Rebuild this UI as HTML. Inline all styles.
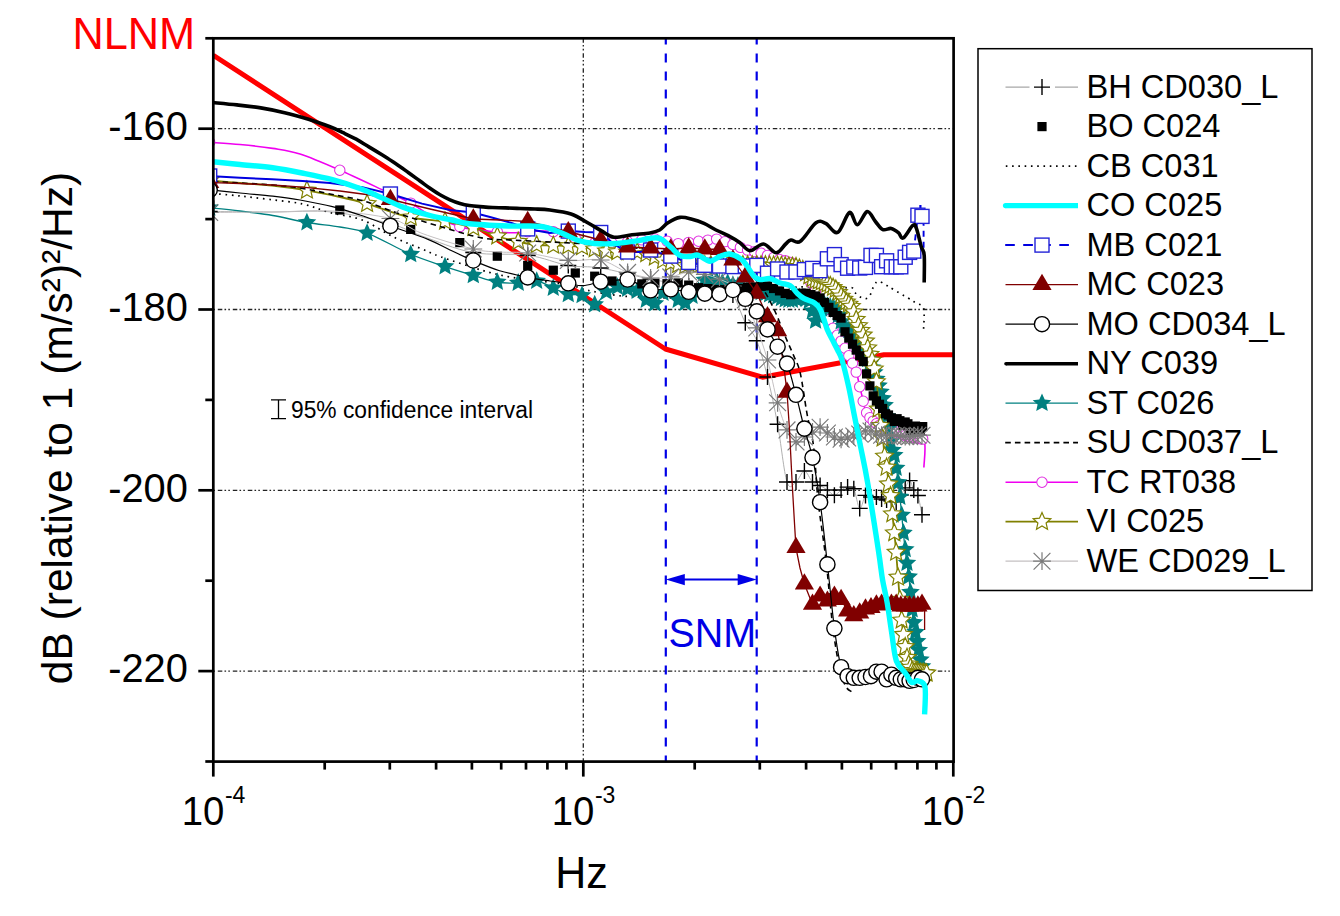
<!DOCTYPE html><html><head><meta charset="utf-8"><style>html,body{margin:0;padding:0;background:#fff;overflow:hidden}</style></head><body><svg width="1340" height="916" viewBox="0 0 1340 916" style="display:block">
<rect width="1340" height="916" fill="#fff"/>
<line x1="213.3" y1="128.7" x2="953.6" y2="128.7" stroke="#222" stroke-width="1.3" stroke-dasharray="4.5 2.2 1.6 2.2 1.6 2.9" fill="none" stroke-dashoffset="10.5"/>
<line x1="213.3" y1="309.5" x2="953.6" y2="309.5" stroke="#222" stroke-width="1.3" stroke-dasharray="4.5 2.2 1.6 2.2 1.6 2.9" fill="none" stroke-dashoffset="10.5"/>
<line x1="213.3" y1="490.3" x2="953.6" y2="490.3" stroke="#222" stroke-width="1.3" stroke-dasharray="4.5 2.2 1.6 2.2 1.6 2.9" fill="none" stroke-dashoffset="10.5"/>
<line x1="213.3" y1="671.1" x2="953.6" y2="671.1" stroke="#222" stroke-width="1.3" stroke-dasharray="4.5 2.2 1.6 2.2 1.6 2.9" fill="none" stroke-dashoffset="10.5"/>
<line x1="583.3" y1="38.3" x2="583.3" y2="761.6" stroke="#222" stroke-width="1.3" stroke-dasharray="4.5 2.2 1.6 2.2 1.6 2.9" fill="none"/>
<line x1="665.8" y1="38.3" x2="665.8" y2="761.6" stroke="#0000e6" stroke-width="2.2" stroke-dasharray="9 9" stroke-dashoffset="2.7"/>
<line x1="756.7" y1="38.3" x2="756.7" y2="761.6" stroke="#0000e6" stroke-width="2.2" stroke-dasharray="9 9" stroke-dashoffset="2.7"/>
<defs><clipPath id="pc"><rect x="213.3" y="38.3" width="740.3" height="723.3000000000001"/></clipPath></defs>
<g clip-path="url(#pc)">
<path d="M213.3,55.3 L665.4,349.0 L762.4,377.2 L883.9,354.7 L953.3,354.7" stroke="#f00" stroke-width="5" fill="none" stroke-linejoin="round"/>
<path d="M209.0,211.5 C219.5,211.6 251.4,211.9 272.0,212.0 C292.6,212.1 312.6,210.0 332.4,212.0 C352.2,214.0 375.9,220.0 390.8,224.0 C405.7,228.0 408.4,231.2 422.0,236.0 C435.6,240.8 455.1,249.3 472.7,252.5 C490.3,255.7 512.0,253.0 527.9,255.2 C543.8,257.4 556.1,263.4 568.2,265.5 C580.3,267.6 587.0,265.8 600.6,268.0 C614.2,270.2 633.4,275.7 650.0,279.0 C666.6,282.3 688.4,285.8 700.0,288.0 C711.6,290.2 714.0,290.8 719.5,292.0 C725.0,293.2 728.6,289.9 732.9,295.0 C737.2,300.1 741.3,315.2 745.3,322.8 C749.3,330.4 753.1,331.8 756.8,340.8 C760.5,349.8 764.0,363.1 767.5,377.0 C771.0,390.9 774.4,407.0 777.6,424.5 C780.9,442.0 783.9,472.4 787.0,482.0 C790.1,491.6 793.1,483.8 796.0,482.0 C798.9,480.2 801.6,471.0 804.4,471.0 C807.1,471.0 809.9,479.6 812.5,482.0 C815.1,484.4 817.6,484.2 820.1,485.5 C822.6,486.8 825.0,488.4 827.4,490.0 C829.8,491.6 832.1,495.3 834.4,495.3 C836.7,495.3 838.9,491.4 841.1,490.0 C843.3,488.6 845.5,487.3 847.6,487.1 C849.7,486.9 851.8,485.2 853.8,488.8 C855.8,492.4 857.8,507.3 859.7,508.4 C861.7,509.5 863.6,497.2 865.5,495.3 C867.4,493.4 869.2,496.7 871.0,497.0 C872.8,497.3 874.6,496.7 876.4,497.0 C878.2,497.3 879.9,498.5 881.6,499.0 C883.3,499.5 885.0,499.7 886.6,500.0 C888.2,500.3 889.8,500.7 891.4,501.0 C893.0,501.3 894.6,502.9 896.2,501.9 C897.8,500.9 899.3,497.3 900.8,495.0 C902.3,492.7 903.7,490.4 905.2,488.0 C906.7,485.6 908.2,480.3 909.6,480.6 C911.0,480.9 912.4,487.6 913.8,490.0 C915.2,492.4 916.5,491.1 917.9,495.3 C919.3,499.5 921.3,511.7 922.0,515.0" stroke="#b0b0b0" stroke-width="1.0" fill="none" stroke-linejoin="round"/>
<path d="M201.7,211.5h16M209.7,203.5v16" stroke="#000" stroke-width="1.4" fill="none"/>
<path d="M382.4,223.9h16M390.4,215.9v16" stroke="#000" stroke-width="1.4" fill="none"/>
<path d="M465.3,252.5h16M473.3,244.5v16" stroke="#000" stroke-width="1.4" fill="none"/>
<path d="M519.7,255.2h16M527.7,247.2v16" stroke="#000" stroke-width="1.4" fill="none"/>
<path d="M560.3,265.5h16M568.3,257.5v16" stroke="#000" stroke-width="1.4" fill="none"/>
<path d="M592.7,268.0h16M600.7,260.0v16" stroke="#000" stroke-width="1.4" fill="none"/>
<path d="M619.6,274.0h16M627.6,266.0v16" stroke="#000" stroke-width="1.4" fill="none"/>
<path d="M642.6,279.1h16M650.6,271.1v16" stroke="#000" stroke-width="1.4" fill="none"/>
<path d="M662.8,282.7h16M670.8,274.7v16" stroke="#000" stroke-width="1.4" fill="none"/>
<path d="M680.7,286.0h16M688.7,278.0v16" stroke="#000" stroke-width="1.4" fill="none"/>
<path d="M696.8,289.0h16M704.8,281.0v16" stroke="#000" stroke-width="1.4" fill="none"/>
<path d="M711.5,292.0h16M719.5,284.0v16" stroke="#000" stroke-width="1.4" fill="none"/>
<path d="M724.9,295.0h16M732.9,287.0v16" stroke="#000" stroke-width="1.4" fill="none"/>
<path d="M737.3,322.7h16M745.3,314.7v16" stroke="#000" stroke-width="1.4" fill="none"/>
<path d="M748.8,340.8h16M756.8,332.8v16" stroke="#000" stroke-width="1.4" fill="none"/>
<path d="M759.5,377.0h16M767.5,369.0v16" stroke="#000" stroke-width="1.4" fill="none"/>
<path d="M769.6,424.3h16M777.6,416.3v16" stroke="#000" stroke-width="1.4" fill="none"/>
<path d="M779.0,482.0h16M787.0,474.0v16" stroke="#000" stroke-width="1.4" fill="none"/>
<path d="M788.0,482.0h16M796.0,474.0v16" stroke="#000" stroke-width="1.4" fill="none"/>
<path d="M796.4,471.0h16M804.4,463.0v16" stroke="#000" stroke-width="1.4" fill="none"/>
<path d="M804.5,482.0h16M812.5,474.0v16" stroke="#000" stroke-width="1.4" fill="none"/>
<path d="M812.1,485.5h16M820.1,477.5v16" stroke="#000" stroke-width="1.4" fill="none"/>
<path d="M819.4,490.0h16M827.4,482.0v16" stroke="#000" stroke-width="1.4" fill="none"/>
<path d="M826.4,495.3h16M834.4,487.3v16" stroke="#000" stroke-width="1.4" fill="none"/>
<path d="M833.1,490.0h16M841.1,482.0v16" stroke="#000" stroke-width="1.4" fill="none"/>
<path d="M839.6,487.1h16M847.6,479.1v16" stroke="#000" stroke-width="1.4" fill="none"/>
<path d="M845.8,488.8h16M853.8,480.8v16" stroke="#000" stroke-width="1.4" fill="none"/>
<path d="M851.7,508.4h16M859.7,500.4v16" stroke="#000" stroke-width="1.4" fill="none"/>
<path d="M857.5,495.4h16M865.5,487.4v16" stroke="#000" stroke-width="1.4" fill="none"/>
<path d="M863.0,497.0h16M871.0,489.0v16" stroke="#000" stroke-width="1.4" fill="none"/>
<path d="M868.4,497.0h16M876.4,489.0v16" stroke="#000" stroke-width="1.4" fill="none"/>
<path d="M873.6,499.0h16M881.6,491.0v16" stroke="#000" stroke-width="1.4" fill="none"/>
<path d="M878.6,500.0h16M886.6,492.0v16" stroke="#000" stroke-width="1.4" fill="none"/>
<path d="M883.4,501.0h16M891.4,493.0v16" stroke="#000" stroke-width="1.4" fill="none"/>
<path d="M888.2,501.9h16M896.2,493.9v16" stroke="#000" stroke-width="1.4" fill="none"/>
<path d="M892.8,495.0h16M900.8,487.0v16" stroke="#000" stroke-width="1.4" fill="none"/>
<path d="M897.2,487.9h16M905.2,479.9v16" stroke="#000" stroke-width="1.4" fill="none"/>
<path d="M901.6,480.6h16M909.6,472.6v16" stroke="#000" stroke-width="1.4" fill="none"/>
<path d="M905.8,490.0h16M913.8,482.0v16" stroke="#000" stroke-width="1.4" fill="none"/>
<path d="M909.9,495.5h16M917.9,487.5v16" stroke="#000" stroke-width="1.4" fill="none"/>
<path d="M914.0,514.8h16M922.0,506.8v16" stroke="#000" stroke-width="1.4" fill="none"/>
<path d="M213.0,193.5 C217.5,193.9 230.5,195.0 240.0,196.0 C249.5,197.0 259.6,198.2 270.0,199.5 C280.4,200.8 292.6,201.8 302.6,204.0 C312.6,206.2 320.1,209.9 330.0,212.6 C339.9,215.3 351.8,216.0 362.3,220.0 C372.8,224.0 383.1,232.0 393.0,236.8 C402.9,241.6 414.0,245.7 422.0,249.0 C430.0,252.3 431.1,253.4 441.0,256.9 C450.9,260.4 470.2,266.8 481.7,270.2 C493.2,273.6 500.1,275.2 510.0,277.0 C520.0,278.8 531.4,279.9 541.4,281.2 C551.4,282.5 562.2,283.5 570.0,285.0 C577.8,286.5 580.3,288.7 588.0,290.4 C595.7,292.1 607.7,294.3 616.4,295.4 C625.1,296.5 629.4,296.6 640.0,297.0 C650.6,297.4 666.7,298.2 680.0,298.0 C693.3,297.8 706.7,297.2 720.0,296.0 C733.3,294.8 746.7,292.5 760.0,291.0 C773.3,289.5 789.0,287.6 800.0,287.0 C811.0,286.4 819.2,287.3 826.0,287.5 C832.8,287.7 836.7,288.3 841.0,288.3 C845.3,288.3 849.2,286.8 851.6,287.5 C854.0,288.2 853.7,291.1 855.1,292.7 C856.5,294.3 858.5,296.1 860.3,297.1 C862.0,298.1 864.0,299.1 865.6,298.8 C867.2,298.5 868.5,297.6 870.0,295.3 C871.5,293.0 872.8,287.1 874.3,284.8 C875.8,282.5 876.8,281.4 878.7,281.4 C880.7,281.4 883.5,283.6 886.0,285.0 C888.5,286.4 889.9,287.4 893.6,289.6 C897.3,291.8 904.3,295.8 908.0,298.0 C911.7,300.2 913.4,301.3 916.0,303.0 C918.6,304.7 922.3,303.9 923.6,308.3 C924.9,312.8 923.6,326.1 923.6,329.7" stroke="#000" stroke-width="1.7" fill="none" stroke-linejoin="round" stroke-dasharray="1.6 4.7"/>
<path d="M209.0,142.2 C214.2,142.6 229.4,143.5 240.0,144.5 C250.6,145.5 262.7,146.8 272.7,148.4 C282.7,150.0 289.1,150.5 300.0,154.0 C310.9,157.5 324.0,163.2 338.4,169.5 C352.8,175.8 374.1,186.0 386.1,191.6 C398.1,197.2 403.3,199.1 410.6,203.0 C417.9,206.9 421.9,211.1 430.0,215.0 C438.1,218.9 450.7,223.9 459.3,226.5 C467.9,229.1 473.0,229.3 481.7,230.4 C490.4,231.5 501.6,232.7 511.5,232.8 C521.5,232.9 533.0,231.1 541.4,231.0 C549.8,230.9 555.7,230.6 561.8,232.0 C567.9,233.4 572.7,237.7 578.2,239.5 C583.7,241.3 588.2,242.4 594.6,243.0 C601.0,243.6 609.1,243.4 616.4,243.0 C623.7,242.6 632.8,241.2 638.3,240.5 C643.8,239.8 645.6,238.7 649.2,238.5 C652.8,238.3 655.1,238.6 660.0,239.5 C664.9,240.4 671.8,243.4 678.5,243.7 C685.2,243.9 693.5,241.8 700.0,241.0 C706.5,240.2 713.0,238.7 717.8,239.0 C722.6,239.3 724.1,241.2 729.0,243.0 C733.9,244.8 741.8,248.4 747.0,250.0 C752.2,251.6 754.9,251.3 760.0,252.8 C765.1,254.3 772.6,257.5 777.6,259.0 C782.6,260.5 785.4,259.8 790.0,262.0 C794.6,264.2 800.3,266.5 805.0,272.0 C809.7,277.5 814.2,287.3 818.0,295.0 C821.8,302.7 825.6,312.7 828.0,318.0 C830.4,323.3 831.1,324.2 832.4,326.8 C833.7,329.4 834.7,331.9 835.9,333.8 C837.1,335.7 838.2,336.4 839.4,338.1 C840.6,339.8 840.8,340.4 842.9,344.2 C845.0,348.0 849.4,356.3 851.7,361.2 C854.0,366.1 855.4,369.3 856.7,373.4 C858.0,377.4 858.5,381.7 859.4,385.5 C860.3,389.3 861.2,392.5 862.1,396.3 C863.0,400.1 863.9,405.3 864.8,408.4 C865.7,411.5 865.8,412.7 867.5,415.1 C869.2,417.5 871.4,420.5 875.0,423.0 C878.6,425.5 885.1,428.3 889.0,429.9 C892.9,431.5 895.3,431.4 898.4,432.5 C901.5,433.6 903.5,435.5 907.8,436.6 C912.0,437.7 921.2,434.2 923.9,439.3 C926.6,444.4 923.9,462.8 923.9,467.5" stroke="#f000f0" stroke-width="1.6" fill="none" stroke-linejoin="round"/>
<circle cx="209.7" cy="142.3" r="5.2" fill="#fff" stroke="#e030e0" stroke-width="1.05"/>
<circle cx="339.8" cy="170.2" r="5.2" fill="#fff" stroke="#e030e0" stroke-width="1.05"/>
<circle cx="410.7" cy="203.1" r="5.2" fill="#fff" stroke="#e030e0" stroke-width="1.05"/>
<circle cx="459.8" cy="226.6" r="5.2" fill="#fff" stroke="#e030e0" stroke-width="1.05"/>
<circle cx="497.3" cy="231.7" r="5.2" fill="#fff" stroke="#e030e0" stroke-width="1.05"/>
<circle cx="527.7" cy="231.8" r="5.2" fill="#fff" stroke="#e030e0" stroke-width="1.05"/>
<circle cx="553.3" cy="231.6" r="5.2" fill="#fff" stroke="#e030e0" stroke-width="1.05"/>
<circle cx="575.3" cy="238.2" r="5.2" fill="#fff" stroke="#e030e0" stroke-width="1.05"/>
<circle cx="594.7" cy="243.0" r="5.2" fill="#fff" stroke="#e030e0" stroke-width="1.05"/>
<circle cx="612.0" cy="243.0" r="5.2" fill="#fff" stroke="#e030e0" stroke-width="1.05"/>
<circle cx="627.6" cy="241.7" r="5.2" fill="#fff" stroke="#e030e0" stroke-width="1.05"/>
<circle cx="641.8" cy="239.9" r="5.2" fill="#fff" stroke="#e030e0" stroke-width="1.05"/>
<circle cx="654.9" cy="239.0" r="5.2" fill="#fff" stroke="#e030e0" stroke-width="1.05"/>
<circle cx="667.0" cy="241.1" r="5.2" fill="#fff" stroke="#e030e0" stroke-width="1.05"/>
<circle cx="678.2" cy="243.6" r="5.2" fill="#fff" stroke="#e030e0" stroke-width="1.05"/>
<circle cx="688.7" cy="242.4" r="5.2" fill="#fff" stroke="#e030e0" stroke-width="1.05"/>
<circle cx="698.6" cy="241.2" r="5.2" fill="#fff" stroke="#e030e0" stroke-width="1.05"/>
<circle cx="707.9" cy="240.1" r="5.2" fill="#fff" stroke="#e030e0" stroke-width="1.05"/>
<circle cx="716.6" cy="239.1" r="5.2" fill="#fff" stroke="#e030e0" stroke-width="1.05"/>
<circle cx="725.0" cy="241.6" r="5.2" fill="#fff" stroke="#e030e0" stroke-width="1.05"/>
<circle cx="732.9" cy="244.5" r="5.2" fill="#fff" stroke="#e030e0" stroke-width="1.05"/>
<circle cx="740.4" cy="247.4" r="5.2" fill="#fff" stroke="#e030e0" stroke-width="1.05"/>
<circle cx="747.6" cy="250.1" r="5.2" fill="#fff" stroke="#e030e0" stroke-width="1.05"/>
<circle cx="754.5" cy="251.6" r="5.2" fill="#fff" stroke="#e030e0" stroke-width="1.05"/>
<circle cx="761.1" cy="253.2" r="5.2" fill="#fff" stroke="#e030e0" stroke-width="1.05"/>
<circle cx="767.5" cy="255.4" r="5.2" fill="#fff" stroke="#e030e0" stroke-width="1.05"/>
<circle cx="773.6" cy="257.6" r="5.2" fill="#fff" stroke="#e030e0" stroke-width="1.05"/>
<circle cx="779.5" cy="259.5" r="5.2" fill="#fff" stroke="#e030e0" stroke-width="1.05"/>
<circle cx="785.2" cy="260.8" r="5.2" fill="#fff" stroke="#e030e0" stroke-width="1.05"/>
<circle cx="790.7" cy="262.4" r="5.2" fill="#fff" stroke="#e030e0" stroke-width="1.05"/>
<circle cx="796.0" cy="266.0" r="5.2" fill="#fff" stroke="#e030e0" stroke-width="1.05"/>
<circle cx="801.1" cy="269.4" r="5.2" fill="#fff" stroke="#e030e0" stroke-width="1.05"/>
<circle cx="806.1" cy="273.9" r="5.2" fill="#fff" stroke="#e030e0" stroke-width="1.05"/>
<circle cx="810.9" cy="282.4" r="5.2" fill="#fff" stroke="#e030e0" stroke-width="1.05"/>
<circle cx="815.6" cy="290.7" r="5.2" fill="#fff" stroke="#e030e0" stroke-width="1.05"/>
<circle cx="820.1" cy="299.9" r="5.2" fill="#fff" stroke="#e030e0" stroke-width="1.05"/>
<circle cx="824.6" cy="310.1" r="5.2" fill="#fff" stroke="#e030e0" stroke-width="1.05"/>
<circle cx="828.9" cy="319.7" r="5.2" fill="#fff" stroke="#e030e0" stroke-width="1.05"/>
<circle cx="833.1" cy="328.1" r="5.2" fill="#fff" stroke="#e030e0" stroke-width="1.05"/>
<circle cx="837.2" cy="335.3" r="5.2" fill="#fff" stroke="#e030e0" stroke-width="1.05"/>
<circle cx="841.1" cy="341.1" r="5.2" fill="#fff" stroke="#e030e0" stroke-width="1.05"/>
<circle cx="845.0" cy="348.3" r="5.2" fill="#fff" stroke="#e030e0" stroke-width="1.05"/>
<circle cx="848.8" cy="355.7" r="5.2" fill="#fff" stroke="#e030e0" stroke-width="1.05"/>
<circle cx="852.5" cy="363.2" r="5.2" fill="#fff" stroke="#e030e0" stroke-width="1.05"/>
<circle cx="856.2" cy="372.1" r="5.2" fill="#fff" stroke="#e030e0" stroke-width="1.05"/>
<circle cx="859.7" cy="386.8" r="5.2" fill="#fff" stroke="#e030e0" stroke-width="1.05"/>
<circle cx="863.2" cy="401.2" r="5.2" fill="#fff" stroke="#e030e0" stroke-width="1.05"/>
<circle cx="866.6" cy="412.8" r="5.2" fill="#fff" stroke="#e030e0" stroke-width="1.05"/>
<circle cx="869.9" cy="417.6" r="5.2" fill="#fff" stroke="#e030e0" stroke-width="1.05"/>
<circle cx="873.2" cy="421.1" r="5.2" fill="#fff" stroke="#e030e0" stroke-width="1.05"/>
<circle cx="876.4" cy="423.7" r="5.2" fill="#fff" stroke="#e030e0" stroke-width="1.05"/>
<circle cx="879.5" cy="425.2" r="5.2" fill="#fff" stroke="#e030e0" stroke-width="1.05"/>
<circle cx="882.6" cy="426.7" r="5.2" fill="#fff" stroke="#e030e0" stroke-width="1.05"/>
<circle cx="885.6" cy="428.2" r="5.2" fill="#fff" stroke="#e030e0" stroke-width="1.05"/>
<circle cx="888.5" cy="429.7" r="5.2" fill="#fff" stroke="#e030e0" stroke-width="1.05"/>
<circle cx="891.4" cy="430.6" r="5.2" fill="#fff" stroke="#e030e0" stroke-width="1.05"/>
<circle cx="894.3" cy="431.4" r="5.2" fill="#fff" stroke="#e030e0" stroke-width="1.05"/>
<circle cx="897.1" cy="432.1" r="5.2" fill="#fff" stroke="#e030e0" stroke-width="1.05"/>
<circle cx="899.9" cy="433.1" r="5.2" fill="#fff" stroke="#e030e0" stroke-width="1.05"/>
<circle cx="902.6" cy="434.3" r="5.2" fill="#fff" stroke="#e030e0" stroke-width="1.05"/>
<circle cx="905.2" cy="435.5" r="5.2" fill="#fff" stroke="#e030e0" stroke-width="1.05"/>
<circle cx="907.9" cy="436.6" r="5.2" fill="#fff" stroke="#e030e0" stroke-width="1.05"/>
<circle cx="910.4" cy="437.0" r="5.2" fill="#fff" stroke="#e030e0" stroke-width="1.05"/>
<circle cx="913.0" cy="437.5" r="5.2" fill="#fff" stroke="#e030e0" stroke-width="1.05"/>
<circle cx="915.5" cy="437.9" r="5.2" fill="#fff" stroke="#e030e0" stroke-width="1.05"/>
<circle cx="917.9" cy="438.3" r="5.2" fill="#fff" stroke="#e030e0" stroke-width="1.05"/>
<circle cx="920.4" cy="438.7" r="5.2" fill="#fff" stroke="#e030e0" stroke-width="1.05"/>
<circle cx="922.7" cy="439.1" r="5.2" fill="#fff" stroke="#e030e0" stroke-width="1.05"/>
<path d="M209.0,207.8 C214.2,208.3 229.4,209.7 240.0,211.0 C250.6,212.3 261.5,213.6 272.7,215.5 C283.9,217.4 295.8,220.6 307.0,222.5 C318.2,224.4 330.1,225.3 340.0,227.0 C349.9,228.7 355.0,228.3 366.7,232.8 C378.4,237.3 397.1,248.4 410.0,254.0 C422.9,259.6 433.9,262.8 444.3,266.3 C454.8,269.8 464.0,272.6 472.7,275.2 C481.4,277.8 489.1,280.7 496.6,282.0 C504.1,283.3 510.8,283.2 517.5,283.0 C524.2,282.8 530.9,280.2 536.9,281.0 C542.9,281.8 548.1,285.8 553.3,288.0 C558.5,290.2 563.5,293.1 568.3,294.3 C573.1,295.5 577.6,293.7 582.0,295.4 C586.4,297.1 590.6,305.1 594.7,304.5 C598.8,303.9 602.6,294.9 606.4,292.0 C610.2,289.1 613.8,287.5 617.3,287.0 C620.8,286.5 624.3,288.3 627.6,289.0 C630.9,289.7 634.1,289.2 637.2,291.0 C640.3,292.8 643.3,297.9 646.3,300.0 C649.2,302.1 652.1,304.7 654.9,303.5 C657.7,302.3 660.4,295.1 663.0,293.0 C665.6,290.9 668.3,289.8 670.8,291.0 C673.3,292.2 675.8,298.0 678.2,300.0 C680.6,302.0 683.0,303.7 685.3,303.0 C687.6,302.3 689.9,298.0 692.1,296.0 C694.3,294.0 696.5,293.7 698.6,291.0 C700.7,288.3 702.8,281.8 704.8,280.0 C706.8,278.2 708.8,279.8 710.8,280.0 C712.8,280.2 714.7,280.5 716.6,281.0 C718.5,281.5 720.4,282.7 722.2,283.0 C724.1,283.3 725.9,282.7 727.7,283.0 C729.5,283.3 730.2,284.3 732.9,285.0 C735.6,285.7 738.9,285.7 744.0,287.0 C749.1,288.3 758.3,291.5 763.5,293.0 C768.7,294.5 771.2,294.8 775.0,296.0 C778.8,297.2 783.0,299.3 786.0,300.0 C789.0,300.7 790.7,300.5 793.0,300.0 C795.3,299.5 797.8,297.2 800.0,297.0 C802.2,296.8 804.6,298.3 806.1,299.0 C807.6,299.7 808.2,299.0 809.3,301.0 C810.4,303.0 811.5,307.7 812.5,311.0 C813.5,314.3 814.5,320.0 815.5,321.0 C816.5,322.0 817.5,319.0 818.5,317.0 C819.5,315.0 820.5,311.0 821.5,309.0 C822.5,307.0 823.4,305.5 824.4,305.0 C825.4,304.5 826.4,305.7 827.4,306.0 C828.4,306.3 829.3,306.8 830.3,307.0 C831.3,307.2 832.2,306.5 833.2,307.0 C834.2,307.5 835.0,308.5 836.0,310.0 C837.0,311.5 838.0,313.7 839.0,316.0 C840.0,318.3 841.0,322.0 842.0,324.0 C843.0,326.0 843.7,326.8 845.0,328.0 C846.3,329.2 848.0,329.7 850.0,331.0 C852.0,332.3 855.0,333.7 857.0,336.0 C859.0,338.3 860.3,341.3 862.0,345.0 C863.7,348.7 865.0,353.7 867.0,358.0 C869.0,362.3 871.9,366.5 873.8,371.0 C875.7,375.5 876.9,381.0 878.2,385.0 C879.5,389.0 880.4,391.5 881.5,395.0 C882.6,398.5 883.7,401.0 884.8,406.0 C885.9,411.0 886.9,418.1 888.0,425.0 C889.1,431.9 890.2,442.1 891.3,447.3 C892.4,452.5 893.2,448.0 894.6,456.0 C896.0,464.0 898.0,480.6 899.7,495.3 C901.4,510.0 903.0,529.7 904.6,544.4 C906.2,559.1 908.2,571.7 909.6,583.7 C911.0,595.7 911.7,607.7 912.8,616.5 C913.9,625.3 915.2,631.1 916.2,636.5 C917.2,641.9 917.7,644.4 918.5,648.7 C919.3,653.0 920.1,659.1 920.8,662.5 C921.5,665.9 922.4,667.8 922.7,668.9" stroke="#008080" stroke-width="1.3" fill="none" stroke-linejoin="round"/>
<polygon points="209.7,198.1 212.4,204.2 219.0,204.8 214.1,209.3 215.5,215.8 209.7,212.5 204.0,215.8 205.4,209.3 200.4,204.8 207.0,204.2" fill="#008080"/>
<polygon points="306.9,212.7 309.6,218.8 316.3,219.5 311.3,223.9 312.7,230.4 306.9,227.1 301.2,230.4 302.6,223.9 297.6,219.5 304.2,218.8" fill="#008080"/>
<polygon points="367.1,223.2 369.8,229.3 376.4,230.0 371.5,234.4 372.8,240.9 367.1,237.6 361.3,240.9 362.7,234.4 357.8,230.0 364.4,229.3" fill="#008080"/>
<polygon points="410.7,244.5 413.5,250.5 420.1,251.2 415.1,255.7 416.5,262.2 410.7,258.9 405.0,262.2 406.4,255.7 401.4,251.2 408.0,250.5" fill="#008080"/>
<polygon points="445.0,256.7 447.7,262.8 454.4,263.5 449.4,268.0 450.8,274.5 445.0,271.1 439.3,274.5 440.7,268.0 435.7,263.5 442.3,262.8" fill="#008080"/>
<polygon points="473.3,265.6 476.0,271.6 482.6,272.3 477.7,276.8 479.1,283.3 473.3,280.0 467.5,283.3 468.9,276.8 464.0,272.3 470.6,271.6" fill="#008080"/>
<polygon points="497.3,272.2 500.0,278.3 506.6,279.0 501.7,283.5 503.1,290.0 497.3,286.6 491.6,290.0 492.9,283.5 488.0,279.0 494.6,278.3" fill="#008080"/>
<polygon points="518.2,273.1 520.9,279.2 527.5,279.9 522.6,284.3 524.0,290.9 518.2,287.5 512.4,290.9 513.8,284.3 508.9,279.9 515.5,279.2" fill="#008080"/>
<polygon points="536.7,271.2 539.4,277.3 546.0,278.0 541.1,282.4 542.4,289.0 536.7,285.6 530.9,289.0 532.3,282.4 527.4,278.0 534.0,277.3" fill="#008080"/>
<polygon points="553.3,278.2 556.0,284.3 562.6,285.0 557.6,289.4 559.0,295.9 553.3,292.6 547.5,295.9 548.9,289.4 543.9,285.0 550.6,284.3" fill="#008080"/>
<polygon points="568.3,284.5 571.0,290.6 577.6,291.3 572.7,295.7 574.0,302.2 568.3,298.9 562.5,302.2 563.9,295.7 559.0,291.3 565.6,290.6" fill="#008080"/>
<polygon points="582.0,285.6 584.7,291.7 591.3,292.4 586.4,296.8 587.8,303.3 582.0,300.0 576.3,303.3 577.7,296.8 572.7,292.4 579.3,291.7" fill="#008080"/>
<polygon points="594.7,294.7 597.4,300.8 604.0,301.5 599.1,305.9 600.4,312.4 594.7,309.1 588.9,312.4 590.3,305.9 585.4,301.5 592.0,300.8" fill="#008080"/>
<polygon points="606.4,282.2 609.1,288.3 615.7,289.0 610.8,293.4 612.2,299.9 606.4,296.6 600.7,299.9 602.0,293.4 597.1,289.0 603.7,288.3" fill="#008080"/>
<polygon points="617.3,277.2 620.1,283.3 626.7,284.0 621.7,288.4 623.1,294.9 617.3,291.6 611.6,294.9 613.0,288.4 608.0,284.0 614.6,283.3" fill="#008080"/>
<polygon points="627.6,279.2 630.3,285.3 636.9,286.0 632.0,290.4 633.3,296.9 627.6,293.6 621.8,296.9 623.2,290.4 618.3,286.0 624.9,285.3" fill="#008080"/>
<polygon points="637.2,281.2 639.9,287.3 646.5,288.0 641.6,292.4 643.0,298.9 637.2,295.6 631.4,298.9 632.8,292.4 627.9,288.0 634.5,287.3" fill="#008080"/>
<polygon points="646.3,290.2 649.0,296.3 655.6,297.0 650.7,301.4 652.0,307.9 646.3,304.6 640.5,307.9 641.9,301.4 637.0,297.0 643.6,296.3" fill="#008080"/>
<polygon points="654.9,293.7 657.6,299.8 664.2,300.5 659.3,304.9 660.6,311.4 654.9,308.1 649.1,311.4 650.5,304.9 645.6,300.5 652.2,299.8" fill="#008080"/>
<polygon points="663.0,283.2 665.7,289.3 672.4,290.0 667.4,294.4 668.8,300.9 663.0,297.6 657.3,300.9 658.7,294.4 653.7,290.0 660.3,289.3" fill="#008080"/>
<polygon points="670.8,281.2 673.5,287.3 680.1,288.0 675.2,292.4 676.6,298.9 670.8,295.6 665.0,298.9 666.4,292.4 661.5,288.0 668.1,287.3" fill="#008080"/>
<polygon points="678.2,290.2 680.9,296.3 687.5,297.0 682.6,301.4 684.0,307.9 678.2,304.6 672.4,307.9 673.8,301.4 668.9,297.0 675.5,296.3" fill="#008080"/>
<polygon points="685.3,293.2 688.0,299.3 694.6,300.0 689.7,304.4 691.0,310.9 685.3,307.6 679.5,310.9 680.9,304.4 676.0,300.0 682.6,299.3" fill="#008080"/>
<polygon points="692.1,286.2 694.8,292.3 701.4,293.0 696.4,297.5 697.8,304.0 692.1,300.6 686.3,304.0 687.7,297.5 682.7,293.0 689.4,292.3" fill="#008080"/>
<polygon points="698.6,281.2 701.3,287.3 707.9,288.0 702.9,292.4 704.3,299.0 698.6,295.6 692.8,299.0 694.2,292.4 689.3,288.0 695.9,287.3" fill="#008080"/>
<polygon points="704.8,270.2 707.5,276.3 714.1,277.0 709.2,281.4 710.6,287.9 704.8,284.6 699.1,287.9 700.4,281.4 695.5,277.0 702.1,276.3" fill="#008080"/>
<polygon points="710.8,270.2 713.5,276.3 720.2,277.0 715.2,281.4 716.6,287.9 710.8,284.6 705.1,287.9 706.5,281.4 701.5,277.0 708.1,276.3" fill="#008080"/>
<polygon points="716.6,271.2 719.3,277.3 726.0,278.0 721.0,282.4 722.4,288.9 716.6,285.6 710.9,288.9 712.3,282.4 707.3,278.0 713.9,277.3" fill="#008080"/>
<polygon points="722.2,273.2 724.9,279.3 731.6,280.0 726.6,284.4 728.0,290.9 722.2,287.6 716.5,290.9 717.9,284.4 712.9,280.0 719.5,279.3" fill="#008080"/>
<polygon points="727.7,273.2 730.4,279.3 737.0,280.0 732.0,284.4 733.4,290.9 727.7,287.6 721.9,290.9 723.3,284.4 718.3,280.0 724.9,279.3" fill="#008080"/>
<polygon points="732.9,275.2 735.6,281.3 742.2,282.0 737.3,286.4 738.6,292.9 732.9,289.6 727.1,292.9 728.5,286.4 723.6,282.0 730.2,281.3" fill="#008080"/>
<polygon points="738.0,276.1 740.7,282.2 747.3,282.9 742.3,287.3 743.7,293.8 738.0,290.5 732.2,293.8 733.6,287.3 728.6,282.9 735.3,282.2" fill="#008080"/>
<polygon points="742.9,277.0 745.6,283.1 752.2,283.8 747.2,288.2 748.6,294.7 742.9,291.4 737.1,294.7 738.5,288.2 733.5,283.8 740.2,283.1" fill="#008080"/>
<polygon points="747.6,278.3 750.3,284.4 757.0,285.1 752.0,289.5 753.4,296.0 747.6,292.7 741.9,296.0 743.3,289.5 738.3,285.1 744.9,284.4" fill="#008080"/>
<polygon points="752.3,279.7 755.0,285.8 761.6,286.5 756.6,291.0 758.0,297.5 752.3,294.1 746.5,297.5 747.9,291.0 742.9,286.5 749.6,285.8" fill="#008080"/>
<polygon points="756.8,281.1 759.5,287.2 766.1,287.9 761.1,292.4 762.5,298.9 756.8,295.5 751.0,298.9 752.4,292.4 747.4,287.9 754.1,287.2" fill="#008080"/>
<polygon points="761.1,282.5 763.9,288.6 770.5,289.2 765.5,293.7 766.9,300.2 761.1,296.9 755.4,300.2 756.8,293.7 751.8,289.2 758.4,288.6" fill="#008080"/>
<polygon points="765.4,283.7 768.1,289.8 774.7,290.5 769.8,294.9 771.2,301.4 765.4,298.1 759.6,301.4 761.0,294.9 756.1,290.5 762.7,289.8" fill="#008080"/>
<polygon points="769.6,284.8 772.3,290.9 778.9,291.6 773.9,296.0 775.3,302.5 769.6,299.2 763.8,302.5 765.2,296.0 760.2,291.6 766.9,290.9" fill="#008080"/>
<polygon points="773.6,285.8 776.3,291.9 782.9,292.6 778.0,297.1 779.4,303.6 773.6,300.2 767.8,303.6 769.2,297.1 764.3,292.6 770.9,291.9" fill="#008080"/>
<polygon points="777.6,287.1 780.3,293.2 786.9,293.9 781.9,298.4 783.3,304.9 777.6,301.5 771.8,304.9 773.2,298.4 768.2,293.9 774.9,293.2" fill="#008080"/>
<polygon points="781.4,288.5 784.1,294.6 790.7,295.3 785.8,299.8 787.2,306.3 781.4,302.9 775.7,306.3 777.0,299.8 772.1,295.3 778.7,294.6" fill="#008080"/>
<polygon points="785.2,289.9 787.9,296.0 794.5,296.7 789.5,301.1 790.9,307.6 785.2,304.3 779.4,307.6 780.8,301.1 775.9,296.7 782.5,296.0" fill="#008080"/>
<polygon points="788.9,290.2 791.6,296.3 798.2,297.0 793.2,301.4 794.6,307.9 788.9,304.6 783.1,307.9 784.5,301.4 779.5,297.0 786.1,296.3" fill="#008080"/>
<polygon points="792.4,290.2 795.1,296.3 801.8,297.0 796.8,301.4 798.2,307.9 792.4,304.6 786.7,307.9 788.1,301.4 783.1,297.0 789.7,296.3" fill="#008080"/>
<polygon points="796.0,288.9 798.7,295.0 805.3,295.7 800.3,300.2 801.7,306.7 796.0,303.3 790.2,306.7 791.6,300.2 786.6,295.7 793.3,295.0" fill="#008080"/>
<polygon points="799.4,287.5 802.1,293.5 808.7,294.2 803.8,298.7 805.2,305.2 799.4,301.9 793.6,305.2 795.0,298.7 790.1,294.2 796.7,293.5" fill="#008080"/>
<polygon points="802.8,288.1 805.5,294.2 812.1,294.9 807.1,299.3 808.5,305.8 802.8,302.5 797.0,305.8 798.4,299.3 793.5,294.9 800.1,294.2" fill="#008080"/>
<polygon points="806.1,289.2 808.8,295.3 815.4,296.0 810.4,300.4 811.8,306.9 806.1,303.6 800.3,306.9 801.7,300.4 796.7,296.0 803.4,295.3" fill="#008080"/>
<polygon points="809.3,291.2 812.0,297.3 818.6,298.0 813.7,302.4 815.1,308.9 809.3,305.6 803.5,308.9 804.9,302.4 800.0,298.0 806.6,297.3" fill="#008080"/>
<polygon points="812.5,301.1 815.2,307.2 821.8,307.9 816.8,312.3 818.2,318.8 812.5,315.5 806.7,318.8 808.1,312.3 803.2,307.9 809.8,307.2" fill="#008080"/>
<polygon points="815.6,311.1 818.3,317.2 824.9,317.9 820.0,322.3 821.3,328.8 815.6,325.5 809.8,328.8 811.2,322.3 806.3,317.9 812.9,317.2" fill="#008080"/>
<polygon points="818.6,306.9 821.3,312.9 828.0,313.6 823.0,318.1 824.4,324.6 818.6,321.3 812.9,324.6 814.3,318.1 809.3,313.6 815.9,312.9" fill="#008080"/>
<polygon points="821.6,299.0 824.3,305.1 830.9,305.8 826.0,310.3 827.4,316.8 821.6,313.4 815.9,316.8 817.2,310.3 812.3,305.8 818.9,305.1" fill="#008080"/>
<polygon points="824.6,295.3 827.3,301.3 833.9,302.0 828.9,306.5 830.3,313.0 824.6,309.7 818.8,313.0 820.2,306.5 815.2,302.0 821.9,301.3" fill="#008080"/>
<polygon points="827.4,296.2 830.1,302.3 836.8,303.0 831.8,307.4 833.2,313.9 827.4,310.6 821.7,313.9 823.1,307.4 818.1,303.0 824.7,302.3" fill="#008080"/>
<polygon points="830.3,297.2 833.0,303.3 839.6,304.0 834.7,308.4 836.0,314.9 830.3,311.6 824.5,314.9 825.9,308.4 821.0,304.0 827.6,303.3" fill="#008080"/>
<polygon points="833.1,297.2 835.8,303.3 842.4,304.0 837.4,308.4 838.8,314.9 833.1,311.6 827.3,314.9 828.7,308.4 823.7,304.0 830.4,303.3" fill="#008080"/>
<polygon points="835.8,300.0 838.5,306.1 845.1,306.8 840.2,311.2 841.6,317.7 835.8,314.4 830.0,317.7 831.4,311.2 826.5,306.8 833.1,306.1" fill="#008080"/>
<polygon points="838.5,305.2 841.2,311.3 847.8,312.0 842.9,316.4 844.3,322.9 838.5,319.6 832.7,322.9 834.1,316.4 829.2,312.0 835.8,311.3" fill="#008080"/>
<polygon points="841.1,311.9 843.8,318.0 850.5,318.7 845.5,323.1 846.9,329.6 841.1,326.3 835.4,329.6 836.8,323.1 831.8,318.7 838.4,318.0" fill="#008080"/>
<polygon points="843.7,316.5 846.4,322.6 853.1,323.3 848.1,327.7 849.5,334.3 843.7,330.9 838.0,334.3 839.4,327.7 834.4,323.3 841.0,322.6" fill="#008080"/>
<polygon points="846.3,319.0 849.0,325.1 855.6,325.8 850.7,330.2 852.1,336.7 846.3,333.4 840.5,336.7 841.9,330.2 837.0,325.8 843.6,325.1" fill="#008080"/>
<polygon points="848.8,320.5 851.5,326.6 858.1,327.3 853.2,331.7 854.6,338.2 848.8,334.9 843.1,338.2 844.5,331.7 839.5,327.3 846.1,326.6" fill="#008080"/>
<polygon points="851.3,322.1 854.0,328.2 860.6,328.9 855.7,333.4 857.1,339.9 851.3,336.5 845.6,339.9 846.9,333.4 842.0,328.9 848.6,328.2" fill="#008080"/>
<polygon points="853.8,323.9 856.5,330.0 863.1,330.7 858.1,335.1 859.5,341.6 853.8,338.3 848.0,341.6 849.4,335.1 844.4,330.7 851.1,330.0" fill="#008080"/>
<polygon points="856.2,325.6 858.9,331.7 865.5,332.4 860.5,336.8 861.9,343.3 856.2,340.0 850.4,343.3 851.8,336.8 846.8,332.4 853.5,331.7" fill="#008080"/>
<polygon points="858.5,329.0 861.2,335.1 867.9,335.7 862.9,340.2 864.3,346.7 858.5,343.4 852.8,346.7 854.2,340.2 849.2,335.7 855.8,335.1" fill="#008080"/>
<polygon points="860.9,333.2 863.6,339.3 870.2,340.0 865.3,344.4 866.6,350.9 860.9,347.6 855.1,350.9 856.5,344.4 851.6,340.0 858.2,339.3" fill="#008080"/>
<polygon points="863.2,338.3 865.9,344.4 872.5,345.1 867.6,349.5 868.9,356.0 863.2,352.7 857.4,356.0 858.8,349.5 853.9,345.1 860.5,344.4" fill="#008080"/>
<polygon points="865.5,344.2 868.2,350.3 874.8,351.0 869.8,355.4 871.2,361.9 865.5,358.6 859.7,361.9 861.1,355.4 856.1,351.0 862.8,350.3" fill="#008080"/>
<polygon points="867.7,349.5 870.4,355.6 877.0,356.3 872.1,360.8 873.5,367.3 867.7,363.9 861.9,367.3 863.3,360.8 858.4,356.3 865.0,355.6" fill="#008080"/>
<polygon points="869.9,353.8 872.6,359.8 879.2,360.5 874.3,365.0 875.7,371.5 869.9,368.2 864.1,371.5 865.5,365.0 860.6,360.5 867.2,359.8" fill="#008080"/>
<polygon points="872.1,357.9 874.8,364.0 881.4,364.7 876.5,369.2 877.8,375.7 872.1,372.3 866.3,375.7 867.7,369.2 862.8,364.7 869.4,364.0" fill="#008080"/>
<polygon points="874.2,362.6 876.9,368.7 883.6,369.4 878.6,373.8 880.0,380.3 874.2,377.0 868.5,380.3 869.9,373.8 864.9,369.4 871.5,368.7" fill="#008080"/>
<polygon points="876.4,369.4 879.1,375.4 885.7,376.1 880.7,380.6 882.1,387.1 876.4,383.8 870.6,387.1 872.0,380.6 867.0,376.1 873.7,375.4" fill="#008080"/>
<polygon points="878.5,376.0 881.2,382.1 887.8,382.8 882.8,387.2 884.2,393.7 878.5,390.4 872.7,393.7 874.1,387.2 869.1,382.8 875.8,382.1" fill="#008080"/>
<polygon points="880.5,382.2 883.2,388.3 889.8,389.0 884.9,393.5 886.3,400.0 880.5,396.6 874.8,400.0 876.2,393.5 871.2,389.0 877.8,388.3" fill="#008080"/>
<polygon points="882.6,388.8 885.3,394.8 891.9,395.5 886.9,400.0 888.3,406.5 882.6,403.2 876.8,406.5 878.2,400.0 873.2,395.5 879.9,394.8" fill="#008080"/>
<polygon points="884.6,395.5 887.3,401.6 893.9,402.3 889.0,406.7 890.3,413.2 884.6,409.9 878.8,413.2 880.2,406.7 875.3,402.3 881.9,401.6" fill="#008080"/>
<polygon points="886.6,406.7 889.3,412.8 895.9,413.5 890.9,418.0 892.3,424.5 886.6,421.1 880.8,424.5 882.2,418.0 877.3,413.5 883.9,412.8" fill="#008080"/>
<polygon points="888.5,418.9 891.2,424.9 897.9,425.6 892.9,430.1 894.3,436.6 888.5,433.3 882.8,436.6 884.2,430.1 879.2,425.6 885.8,424.9" fill="#008080"/>
<polygon points="890.5,432.0 893.2,438.1 899.8,438.8 894.9,443.2 896.2,449.7 890.5,446.4 884.7,449.7 886.1,443.2 881.2,438.8 887.8,438.1" fill="#008080"/>
<polygon points="892.4,440.4 895.1,446.5 901.7,447.2 896.8,451.6 898.2,458.1 892.4,454.8 886.6,458.1 888.0,451.6 883.1,447.2 889.7,446.5" fill="#008080"/>
<polygon points="894.3,445.4 897.0,451.5 903.6,452.2 898.7,456.6 900.1,463.1 894.3,459.8 888.5,463.1 889.9,456.6 885.0,452.2 891.6,451.5" fill="#008080"/>
<polygon points="896.2,458.3 898.9,464.4 905.5,465.1 900.6,469.6 901.9,476.1 896.2,472.7 890.4,476.1 891.8,469.6 886.9,465.1 893.5,464.4" fill="#008080"/>
<polygon points="898.0,472.6 900.7,478.7 907.4,479.4 902.4,483.9 903.8,490.4 898.0,487.0 892.3,490.4 893.7,483.9 888.7,479.4 895.3,478.7" fill="#008080"/>
<polygon points="899.9,487.1 902.6,493.2 909.2,493.9 904.2,498.3 905.6,504.9 899.9,501.5 894.1,504.9 895.5,498.3 890.5,493.9 897.2,493.2" fill="#008080"/>
<polygon points="901.7,505.3 904.4,511.4 911.0,512.1 906.0,516.5 907.4,523.0 901.7,519.7 895.9,523.0 897.3,516.5 892.4,512.1 899.0,511.4" fill="#008080"/>
<polygon points="903.5,523.2 906.2,529.3 912.8,530.0 907.8,534.5 909.2,541.0 903.5,537.6 897.7,541.0 899.1,534.5 894.1,530.0 900.8,529.3" fill="#008080"/>
<polygon points="905.2,539.6 907.9,545.7 914.6,546.4 909.6,550.8 911.0,557.3 905.2,554.0 899.5,557.3 900.9,550.8 895.9,546.4 902.5,545.7" fill="#008080"/>
<polygon points="907.0,553.4 909.7,559.5 916.3,560.1 911.4,564.6 912.7,571.1 907.0,567.8 901.2,571.1 902.6,564.6 897.7,560.1 904.3,559.5" fill="#008080"/>
<polygon points="908.7,567.0 911.4,573.1 918.0,573.8 913.1,578.2 914.5,584.7 908.7,581.4 903.0,584.7 904.3,578.2 899.4,573.8 906.0,573.1" fill="#008080"/>
<polygon points="910.4,582.5 913.1,588.6 919.8,589.3 914.8,593.7 916.2,600.2 910.4,596.9 904.7,600.2 906.1,593.7 901.1,589.3 907.7,588.6" fill="#008080"/>
<polygon points="912.1,599.9 914.8,606.0 921.5,606.6 916.5,611.1 917.9,617.6 912.1,614.3 906.4,617.6 907.8,611.1 902.8,606.6 909.4,606.0" fill="#008080"/>
<polygon points="913.8,612.7 916.5,618.7 923.1,619.4 918.2,623.9 919.6,630.4 913.8,627.1 908.1,630.4 909.4,623.9 904.5,619.4 911.1,618.7" fill="#008080"/>
<polygon points="915.5,622.4 918.2,628.5 924.8,629.2 919.8,633.7 921.2,640.2 915.5,636.8 909.7,640.2 911.1,633.7 906.2,629.2 912.8,628.5" fill="#008080"/>
<polygon points="917.1,631.6 919.8,637.7 926.4,638.3 921.5,642.8 922.9,649.3 917.1,646.0 911.4,649.3 912.7,642.8 907.8,638.3 914.4,637.7" fill="#008080"/>
<polygon points="918.7,640.4 921.5,646.5 928.1,647.2 923.1,651.6 924.5,658.1 918.7,654.8 913.0,658.1 914.4,651.6 909.4,647.2 916.0,646.5" fill="#008080"/>
<polygon points="920.4,650.1 923.1,656.1 929.7,656.8 924.7,661.3 926.1,667.8 920.4,664.5 914.6,667.8 916.0,661.3 911.0,656.8 917.7,656.1" fill="#008080"/>
<polygon points="922.0,656.6 924.7,662.7 931.3,663.4 926.3,667.8 927.7,674.3 922.0,671.0 916.2,674.3 917.6,667.8 912.6,663.4 919.3,662.7" fill="#008080"/>
<path d="M209.0,180.3 C214.2,180.8 229.5,182.1 240.0,183.0 C250.5,183.9 261.1,184.3 272.0,185.5 C282.9,186.7 294.2,188.2 305.5,190.1 C316.8,192.0 329.8,194.8 340.0,197.0 C350.2,199.2 355.3,200.3 366.7,203.6 C378.1,206.9 395.3,214.0 408.5,217.0 C421.7,220.0 435.1,219.8 445.8,221.5 C456.5,223.2 464.2,225.1 472.7,227.5 C481.2,229.9 489.1,233.7 496.6,236.0 C504.1,238.3 510.8,240.0 517.5,241.5 C524.2,243.0 530.9,244.3 536.9,245.0 C542.9,245.7 547.8,245.3 553.3,245.5 C558.8,245.7 564.5,245.8 569.7,246.0 C574.9,246.2 579.6,246.3 584.6,247.0 C589.6,247.7 595.0,249.2 599.6,250.0 C604.2,250.8 605.1,251.7 612.1,252.0 C619.1,252.3 633.3,250.7 641.6,252.0 C649.9,253.3 656.8,258.1 662.0,260.0 C667.2,261.9 669.2,262.6 672.8,263.6 C676.4,264.6 679.1,265.8 683.6,266.0 C688.1,266.2 693.9,265.2 700.0,265.0 C706.1,264.8 709.2,265.0 720.0,265.0 C730.8,265.0 754.2,264.8 765.0,265.0 C775.8,265.2 779.7,265.7 785.0,266.0 C790.3,266.3 794.0,266.3 797.0,267.0 C800.0,267.7 801.2,268.7 803.0,270.0 C804.8,271.3 806.2,273.3 808.0,275.0 C809.8,276.7 812.0,278.9 814.0,280.0 C816.0,281.1 817.5,280.7 820.0,281.5 C822.5,282.3 826.1,283.4 828.9,284.8 C831.7,286.2 834.8,288.2 836.8,290.1 C838.8,292.0 839.6,294.3 841.1,296.2 C842.6,298.1 843.8,299.6 845.5,301.4 C847.2,303.1 850.0,304.4 851.6,306.7 C853.2,309.0 854.2,312.8 855.1,315.4 C856.0,318.0 856.0,320.1 856.9,322.4 C857.8,324.7 859.1,327.1 860.3,329.4 C861.4,331.7 862.8,333.9 863.8,336.4 C864.8,338.9 865.6,341.6 866.5,344.2 C867.4,346.8 868.1,349.4 869.0,352.0 C869.9,354.6 871.0,356.7 872.0,360.0 C873.0,363.3 874.1,367.0 875.0,372.0 C875.9,377.0 876.9,383.7 877.5,390.0 C878.1,396.3 878.0,404.0 878.5,410.0 C879.0,416.0 879.8,420.9 880.6,426.2 C881.4,431.5 882.5,437.0 883.2,442.0 C883.9,447.0 883.9,451.6 884.6,456.4 C885.3,461.2 886.6,466.2 887.2,470.8 C887.9,475.4 887.9,479.1 888.5,483.9 C889.1,488.7 890.5,494.6 891.1,499.6 C891.8,504.6 891.8,508.1 892.4,514.0 C893.0,519.9 893.9,529.0 894.5,535.0 C895.1,541.0 895.4,543.0 896.0,550.0 C896.6,557.0 897.1,565.7 898.0,577.0 C898.9,588.3 900.5,608.6 901.4,618.0 C902.3,627.4 902.6,628.4 903.3,633.5 C904.0,638.6 904.8,643.9 905.5,648.7 C906.2,653.5 906.6,658.6 907.8,662.5 C909.0,666.4 909.6,670.2 912.8,672.0 C916.0,673.8 924.5,673.0 926.9,673.2" stroke="#808000" stroke-width="1.8" fill="none" stroke-linejoin="round"/>
<polygon points="209.7,171.1 212.3,176.9 218.6,177.5 213.8,181.7 215.2,187.9 209.7,184.7 204.3,187.9 205.6,181.7 200.9,177.5 207.2,176.9" fill="#fff" stroke="#808000" stroke-width="1.2"/>
<polygon points="306.9,181.1 309.5,186.9 315.8,187.5 311.0,191.7 312.4,197.9 306.9,194.7 301.5,197.9 302.9,191.7 298.1,187.5 304.4,186.9" fill="#fff" stroke="#808000" stroke-width="1.2"/>
<polygon points="367.1,194.4 369.6,200.2 375.9,200.9 371.2,205.1 372.6,211.2 367.1,208.0 361.6,211.2 363.0,205.1 358.2,200.9 364.6,200.2" fill="#fff" stroke="#808000" stroke-width="1.2"/>
<polygon points="410.7,208.0 413.3,213.8 419.6,214.4 414.8,218.6 416.2,224.8 410.7,221.6 405.3,224.8 406.7,218.6 401.9,214.4 408.2,213.8" fill="#fff" stroke="#808000" stroke-width="1.2"/>
<polygon points="445.0,212.1 447.6,217.9 453.9,218.5 449.1,222.7 450.5,228.9 445.0,225.7 439.6,228.9 441.0,222.7 436.2,218.5 442.5,217.9" fill="#fff" stroke="#808000" stroke-width="1.2"/>
<polygon points="473.3,218.4 475.8,224.2 482.1,224.8 477.4,229.0 478.8,235.2 473.3,232.0 467.8,235.2 469.2,229.0 464.5,224.8 470.8,224.2" fill="#fff" stroke="#808000" stroke-width="1.2"/>
<polygon points="497.3,226.9 499.8,232.7 506.2,233.3 501.4,237.5 502.8,243.7 497.3,240.5 491.8,243.7 493.2,237.5 488.5,233.3 494.8,232.7" fill="#fff" stroke="#808000" stroke-width="1.2"/>
<polygon points="518.2,232.3 520.7,238.1 527.0,238.8 522.3,243.0 523.7,249.2 518.2,245.9 512.7,249.2 514.1,243.0 509.4,238.8 515.7,238.1" fill="#fff" stroke="#808000" stroke-width="1.2"/>
<polygon points="536.7,235.7 539.2,241.5 545.5,242.1 540.8,246.3 542.2,252.5 536.7,249.3 531.2,252.5 532.6,246.3 527.8,242.1 534.2,241.5" fill="#fff" stroke="#808000" stroke-width="1.2"/>
<polygon points="553.3,236.2 555.8,242.0 562.1,242.6 557.4,246.8 558.7,253.0 553.3,249.8 547.8,253.0 549.2,246.8 544.4,242.6 550.7,242.0" fill="#fff" stroke="#808000" stroke-width="1.2"/>
<polygon points="568.3,236.7 570.8,242.5 577.1,243.1 572.4,247.3 573.8,253.5 568.3,250.3 562.8,253.5 564.2,247.3 559.4,243.1 565.8,242.5" fill="#fff" stroke="#808000" stroke-width="1.2"/>
<polygon points="582.0,237.5 584.6,243.3 590.9,244.0 586.1,248.2 587.5,254.4 582.0,251.1 576.6,254.4 577.9,248.2 573.2,244.0 579.5,243.3" fill="#fff" stroke="#808000" stroke-width="1.2"/>
<polygon points="594.7,239.7 597.2,245.5 603.5,246.1 598.8,250.3 600.1,256.5 594.7,253.3 589.2,256.5 590.6,250.3 585.8,246.1 592.2,245.5" fill="#fff" stroke="#808000" stroke-width="1.2"/>
<polygon points="606.4,241.8 608.9,247.6 615.3,248.2 610.5,252.4 611.9,258.6 606.4,255.4 600.9,258.6 602.3,252.4 597.6,248.2 603.9,247.6" fill="#fff" stroke="#808000" stroke-width="1.2"/>
<polygon points="617.3,242.7 619.9,248.5 626.2,249.1 621.4,253.3 622.8,259.5 617.3,256.3 611.9,259.5 613.3,253.3 608.5,249.1 614.8,248.5" fill="#fff" stroke="#808000" stroke-width="1.2"/>
<polygon points="627.6,242.7 630.1,248.5 636.4,249.1 631.7,253.3 633.0,259.5 627.6,256.3 622.1,259.5 623.5,253.3 618.7,249.1 625.1,248.5" fill="#fff" stroke="#808000" stroke-width="1.2"/>
<polygon points="637.2,242.7 639.7,248.5 646.1,249.1 641.3,253.3 642.7,259.5 637.2,256.3 631.7,259.5 633.1,253.3 628.4,249.1 634.7,248.5" fill="#fff" stroke="#808000" stroke-width="1.2"/>
<polygon points="646.3,244.5 648.8,250.4 655.1,251.0 650.4,255.2 651.8,261.4 646.3,258.1 640.8,261.4 642.2,255.2 637.4,251.0 643.8,250.4" fill="#fff" stroke="#808000" stroke-width="1.2"/>
<polygon points="654.9,247.9 657.4,253.7 663.7,254.3 659.0,258.5 660.3,264.7 654.9,261.5 649.4,264.7 650.8,258.5 646.0,254.3 652.4,253.7" fill="#fff" stroke="#808000" stroke-width="1.2"/>
<polygon points="663.0,251.0 665.6,256.9 671.9,257.5 667.1,261.7 668.5,267.9 663.0,264.6 657.6,267.9 658.9,261.7 654.2,257.5 660.5,256.9" fill="#fff" stroke="#808000" stroke-width="1.2"/>
<polygon points="670.8,253.6 673.3,259.5 679.6,260.1 674.9,264.3 676.3,270.5 670.8,267.2 665.3,270.5 666.7,264.3 662.0,260.1 668.3,259.5" fill="#fff" stroke="#808000" stroke-width="1.2"/>
<polygon points="678.2,255.5 680.7,261.3 687.1,261.9 682.3,266.1 683.7,272.3 678.2,269.1 672.7,272.3 674.1,266.1 669.4,261.9 675.7,261.3" fill="#fff" stroke="#808000" stroke-width="1.2"/>
<polygon points="685.3,256.6 687.8,262.4 694.1,263.0 689.4,267.2 690.8,273.4 685.3,270.2 679.8,273.4 681.2,267.2 676.4,263.0 682.8,262.4" fill="#fff" stroke="#808000" stroke-width="1.2"/>
<polygon points="692.1,256.2 694.6,262.0 700.9,262.6 696.2,266.8 697.5,273.0 692.1,269.8 686.6,273.0 688.0,266.8 683.2,262.6 689.5,262.0" fill="#fff" stroke="#808000" stroke-width="1.2"/>
<polygon points="698.6,255.8 701.1,261.6 707.4,262.2 702.7,266.4 704.0,272.6 698.6,269.4 693.1,272.6 694.5,266.4 689.7,262.2 696.0,261.6" fill="#fff" stroke="#808000" stroke-width="1.2"/>
<polygon points="704.8,255.7 707.4,261.5 713.7,262.1 708.9,266.3 710.3,272.5 704.8,269.3 699.4,272.5 700.7,266.3 696.0,262.1 702.3,261.5" fill="#fff" stroke="#808000" stroke-width="1.2"/>
<polygon points="710.8,255.7 713.4,261.5 719.7,262.1 714.9,266.3 716.3,272.5 710.8,269.3 705.4,272.5 706.8,266.3 702.0,262.1 708.3,261.5" fill="#fff" stroke="#808000" stroke-width="1.2"/>
<polygon points="716.6,255.7 719.2,261.5 725.5,262.1 720.7,266.3 722.1,272.5 716.6,269.3 711.2,272.5 712.6,266.3 707.8,262.1 714.1,261.5" fill="#fff" stroke="#808000" stroke-width="1.2"/>
<polygon points="722.2,255.7 724.8,261.5 731.1,262.1 726.3,266.3 727.7,272.5 722.2,269.3 716.8,272.5 718.2,266.3 713.4,262.1 719.7,261.5" fill="#fff" stroke="#808000" stroke-width="1.2"/>
<polygon points="727.7,255.7 730.2,261.5 736.5,262.1 731.7,266.3 733.1,272.5 727.7,269.3 722.2,272.5 723.6,266.3 718.8,262.1 725.1,261.5" fill="#fff" stroke="#808000" stroke-width="1.2"/>
<polygon points="732.9,255.7 735.4,261.5 741.7,262.1 737.0,266.3 738.4,272.5 732.9,269.3 727.4,272.5 728.8,266.3 724.0,262.1 730.4,261.5" fill="#fff" stroke="#808000" stroke-width="1.2"/>
<polygon points="738.0,255.7 740.5,261.5 746.8,262.1 742.0,266.3 743.4,272.5 738.0,269.3 732.5,272.5 733.9,266.3 729.1,262.1 735.4,261.5" fill="#fff" stroke="#808000" stroke-width="1.2"/>
<polygon points="742.9,255.7 745.4,261.5 751.7,262.1 747.0,266.3 748.3,272.5 742.9,269.3 737.4,272.5 738.8,266.3 734.0,262.1 740.3,261.5" fill="#fff" stroke="#808000" stroke-width="1.2"/>
<polygon points="747.6,255.7 750.2,261.5 756.5,262.1 751.7,266.3 753.1,272.5 747.6,269.3 742.2,272.5 743.5,266.3 738.8,262.1 745.1,261.5" fill="#fff" stroke="#808000" stroke-width="1.2"/>
<polygon points="752.3,255.7 754.8,261.5 761.1,262.1 756.4,266.3 757.7,272.5 752.3,269.3 746.8,272.5 748.2,266.3 743.4,262.1 749.7,261.5" fill="#fff" stroke="#808000" stroke-width="1.2"/>
<polygon points="756.8,255.7 759.3,261.5 765.6,262.1 760.9,266.3 762.2,272.5 756.8,269.3 751.3,272.5 752.7,266.3 747.9,262.1 754.2,261.5" fill="#fff" stroke="#808000" stroke-width="1.2"/>
<polygon points="761.1,255.7 763.7,261.5 770.0,262.1 765.2,266.3 766.6,272.5 761.1,269.3 755.7,272.5 757.1,266.3 752.3,262.1 758.6,261.5" fill="#fff" stroke="#808000" stroke-width="1.2"/>
<polygon points="765.4,255.7 767.9,261.5 774.3,262.1 769.5,266.3 770.9,272.5 765.4,269.3 759.9,272.5 761.3,266.3 756.6,262.1 762.9,261.5" fill="#fff" stroke="#808000" stroke-width="1.2"/>
<polygon points="769.6,255.9 772.1,261.7 778.4,262.4 773.7,266.6 775.0,272.8 769.6,269.5 764.1,272.8 765.5,266.6 760.7,262.4 767.0,261.7" fill="#fff" stroke="#808000" stroke-width="1.2"/>
<polygon points="773.6,256.1 776.1,262.0 782.5,262.6 777.7,266.8 779.1,273.0 773.6,269.7 768.1,273.0 769.5,266.8 764.8,262.6 771.1,262.0" fill="#fff" stroke="#808000" stroke-width="1.2"/>
<polygon points="777.6,256.3 780.1,262.1 786.4,262.8 781.6,267.0 783.0,273.2 777.6,269.9 772.1,273.2 773.5,267.0 768.7,262.8 775.0,262.1" fill="#fff" stroke="#808000" stroke-width="1.2"/>
<polygon points="781.4,256.5 783.9,262.3 790.3,262.9 785.5,267.1 786.9,273.3 781.4,270.1 775.9,273.3 777.3,267.1 772.6,262.9 778.9,262.3" fill="#fff" stroke="#808000" stroke-width="1.2"/>
<polygon points="785.2,256.7 787.7,262.5 794.0,263.1 789.3,267.3 790.6,273.5 785.2,270.3 779.7,273.5 781.1,267.3 776.3,263.1 782.6,262.5" fill="#fff" stroke="#808000" stroke-width="1.2"/>
<polygon points="788.9,257.0 791.4,262.8 797.7,263.4 792.9,267.6 794.3,273.8 788.9,270.6 783.4,273.8 784.8,267.6 780.0,263.4 786.3,262.8" fill="#fff" stroke="#808000" stroke-width="1.2"/>
<polygon points="792.4,257.3 795.0,263.1 801.3,263.7 796.5,267.9 797.9,274.1 792.4,270.9 787.0,274.1 788.4,267.9 783.6,263.7 789.9,263.1" fill="#fff" stroke="#808000" stroke-width="1.2"/>
<polygon points="796.0,257.6 798.5,263.4 804.8,264.0 800.1,268.2 801.4,274.4 796.0,271.2 790.5,274.4 791.9,268.2 787.1,264.0 793.4,263.4" fill="#fff" stroke="#808000" stroke-width="1.2"/>
<polygon points="799.4,258.9 801.9,264.7 808.2,265.3 803.5,269.5 804.9,275.7 799.4,272.5 793.9,275.7 795.3,269.5 790.6,265.3 796.9,264.7" fill="#fff" stroke="#808000" stroke-width="1.2"/>
<polygon points="802.8,260.6 805.3,266.4 811.6,267.0 806.9,271.2 808.2,277.4 802.8,274.2 797.3,277.4 798.7,271.2 793.9,267.0 800.2,266.4" fill="#fff" stroke="#808000" stroke-width="1.2"/>
<polygon points="806.1,263.8 808.6,269.6 814.9,270.2 810.2,274.4 811.5,280.6 806.1,277.4 800.6,280.6 802.0,274.4 797.2,270.2 803.5,269.6" fill="#fff" stroke="#808000" stroke-width="1.2"/>
<polygon points="809.3,266.8 811.8,272.6 818.1,273.2 813.4,277.4 814.8,283.6 809.3,280.4 803.8,283.6 805.2,277.4 800.5,273.2 806.8,272.6" fill="#fff" stroke="#808000" stroke-width="1.2"/>
<polygon points="812.5,269.4 815.0,275.2 821.3,275.9 816.6,280.1 817.9,286.3 812.5,283.0 807.0,286.3 808.4,280.1 803.6,275.9 809.9,275.2" fill="#fff" stroke="#808000" stroke-width="1.2"/>
<polygon points="815.6,271.1 818.1,276.9 824.4,277.5 819.7,281.7 821.0,287.9 815.6,284.7 810.1,287.9 811.5,281.7 806.7,277.5 813.1,276.9" fill="#fff" stroke="#808000" stroke-width="1.2"/>
<polygon points="818.6,271.9 821.2,277.7 827.5,278.3 822.7,282.5 824.1,288.7 818.6,285.5 813.2,288.7 814.5,282.5 809.8,278.3 816.1,277.7" fill="#fff" stroke="#808000" stroke-width="1.2"/>
<polygon points="821.6,272.8 824.1,278.6 830.5,279.2 825.7,283.4 827.1,289.6 821.6,286.4 816.2,289.6 817.5,283.4 812.8,279.2 819.1,278.6" fill="#fff" stroke="#808000" stroke-width="1.2"/>
<polygon points="824.6,273.9 827.1,279.7 833.4,280.3 828.6,284.5 830.0,290.7 824.6,287.5 819.1,290.7 820.5,284.5 815.7,280.3 822.0,279.7" fill="#fff" stroke="#808000" stroke-width="1.2"/>
<polygon points="827.4,275.0 830.0,280.8 836.3,281.4 831.5,285.6 832.9,291.8 827.4,288.6 822.0,291.8 823.4,285.6 818.6,281.4 824.9,280.8" fill="#fff" stroke="#808000" stroke-width="1.2"/>
<polygon points="830.3,276.4 832.8,282.2 839.1,282.9 834.4,287.1 835.7,293.2 830.3,290.0 824.8,293.2 826.2,287.1 821.4,282.9 827.8,282.2" fill="#fff" stroke="#808000" stroke-width="1.2"/>
<polygon points="833.1,278.3 835.6,284.1 841.9,284.7 837.2,288.9 838.5,295.1 833.1,291.9 827.6,295.1 829.0,288.9 824.2,284.7 830.5,284.1" fill="#fff" stroke="#808000" stroke-width="1.2"/>
<polygon points="835.8,280.1 838.3,286.0 844.6,286.6 839.9,290.8 841.3,297.0 835.8,293.7 830.3,297.0 831.7,290.8 827.0,286.6 833.3,286.0" fill="#fff" stroke="#808000" stroke-width="1.2"/>
<polygon points="838.5,283.2 841.0,289.0 847.3,289.6 842.6,293.8 844.0,300.0 838.5,296.8 833.0,300.0 834.4,293.8 829.6,289.6 836.0,289.0" fill="#fff" stroke="#808000" stroke-width="1.2"/>
<polygon points="841.1,286.9 843.7,292.8 850.0,293.4 845.2,297.6 846.6,303.8 841.1,300.5 835.7,303.8 837.0,297.6 832.3,293.4 838.6,292.8" fill="#fff" stroke="#808000" stroke-width="1.2"/>
<polygon points="843.7,290.0 846.3,295.8 852.6,296.5 847.8,300.7 849.2,306.8 843.7,303.6 838.3,306.8 839.7,300.7 834.9,296.5 841.2,295.8" fill="#fff" stroke="#808000" stroke-width="1.2"/>
<polygon points="846.3,292.8 848.8,298.6 855.2,299.2 850.4,303.4 851.8,309.6 846.3,306.4 840.8,309.6 842.2,303.4 837.5,299.2 843.8,298.6" fill="#fff" stroke="#808000" stroke-width="1.2"/>
<polygon points="848.8,295.0 851.4,300.8 857.7,301.4 852.9,305.6 854.3,311.8 848.8,308.6 843.4,311.8 844.7,305.6 840.0,301.4 846.3,300.8" fill="#fff" stroke="#808000" stroke-width="1.2"/>
<polygon points="851.3,297.2 853.8,303.0 860.2,303.6 855.4,307.8 856.8,314.0 851.3,310.8 845.8,314.0 847.2,307.8 842.5,303.6 848.8,303.0" fill="#fff" stroke="#808000" stroke-width="1.2"/>
<polygon points="853.8,302.8 856.3,308.6 862.6,309.2 857.8,313.4 859.2,319.6 853.8,316.4 848.3,319.6 849.7,313.4 844.9,309.2 851.2,308.6" fill="#fff" stroke="#808000" stroke-width="1.2"/>
<polygon points="856.2,310.3 858.7,316.1 865.0,316.7 860.3,320.9 861.6,327.1 856.2,323.9 850.7,327.1 852.1,320.9 847.3,316.7 853.6,316.1" fill="#fff" stroke="#808000" stroke-width="1.2"/>
<polygon points="858.5,316.5 861.1,322.3 867.4,322.9 862.6,327.1 864.0,333.3 858.5,330.1 853.1,333.3 854.5,327.1 849.7,322.9 856.0,322.3" fill="#fff" stroke="#808000" stroke-width="1.2"/>
<polygon points="860.9,321.3 863.4,327.1 869.7,327.7 865.0,331.9 866.3,338.1 860.9,334.9 855.4,338.1 856.8,331.9 852.0,327.7 858.4,327.1" fill="#fff" stroke="#808000" stroke-width="1.2"/>
<polygon points="863.2,325.9 865.7,331.7 872.0,332.3 867.3,336.5 868.7,342.7 863.2,339.5 857.7,342.7 859.1,336.5 854.3,332.3 860.7,331.7" fill="#fff" stroke="#808000" stroke-width="1.2"/>
<polygon points="865.5,331.9 868.0,337.7 874.3,338.3 869.5,342.5 870.9,348.7 865.5,345.5 860.0,348.7 861.4,342.5 856.6,338.3 862.9,337.7" fill="#fff" stroke="#808000" stroke-width="1.2"/>
<polygon points="867.7,338.6 870.2,344.5 876.5,345.1 871.8,349.3 873.2,355.5 867.7,352.2 862.2,355.5 863.6,349.3 858.9,345.1 865.2,344.5" fill="#fff" stroke="#808000" stroke-width="1.2"/>
<polygon points="869.9,345.1 872.4,350.9 878.8,351.6 874.0,355.8 875.4,361.9 869.9,358.7 864.4,361.9 865.8,355.8 861.1,351.6 867.4,350.9" fill="#fff" stroke="#808000" stroke-width="1.2"/>
<polygon points="872.1,351.1 874.6,356.9 880.9,357.5 876.2,361.7 877.6,367.9 872.1,364.7 866.6,367.9 868.0,361.7 863.2,357.5 869.6,356.9" fill="#fff" stroke="#808000" stroke-width="1.2"/>
<polygon points="874.2,359.7 876.8,365.5 883.1,366.1 878.3,370.3 879.7,376.5 874.2,373.3 868.8,376.5 870.2,370.3 865.4,366.1 871.7,365.5" fill="#fff" stroke="#808000" stroke-width="1.2"/>
<polygon points="876.4,372.5 878.9,378.3 885.2,378.9 880.5,383.1 881.8,389.3 876.4,386.1 870.9,389.3 872.3,383.1 867.5,378.9 873.8,378.3" fill="#fff" stroke="#808000" stroke-width="1.2"/>
<polygon points="878.5,399.9 881.0,405.7 887.3,406.3 882.5,410.5 883.9,416.7 878.5,413.5 873.0,416.7 874.4,410.5 869.6,406.3 875.9,405.7" fill="#fff" stroke="#808000" stroke-width="1.2"/>
<polygon points="880.5,416.3 883.1,422.2 889.4,422.8 884.6,427.0 886.0,433.2 880.5,429.9 875.1,433.2 876.4,427.0 871.7,422.8 878.0,422.2" fill="#fff" stroke="#808000" stroke-width="1.2"/>
<polygon points="882.6,428.9 885.1,434.7 891.4,435.3 886.7,439.5 888.0,445.7 882.6,442.5 877.1,445.7 878.5,439.5 873.7,435.3 880.0,434.7" fill="#fff" stroke="#808000" stroke-width="1.2"/>
<polygon points="884.6,446.9 887.1,452.8 893.4,453.4 888.7,457.6 890.1,463.8 884.6,460.5 879.1,463.8 880.5,457.6 875.7,453.4 882.1,452.8" fill="#fff" stroke="#808000" stroke-width="1.2"/>
<polygon points="886.6,458.0 889.1,463.9 895.4,464.5 890.7,468.7 892.0,474.9 886.6,471.6 881.1,474.9 882.5,468.7 877.7,464.5 884.0,463.9" fill="#fff" stroke="#808000" stroke-width="1.2"/>
<polygon points="888.5,474.9 891.1,480.7 897.4,481.3 892.6,485.5 894.0,491.7 888.5,488.5 883.1,491.7 884.5,485.5 879.7,481.3 886.0,480.7" fill="#fff" stroke="#808000" stroke-width="1.2"/>
<polygon points="890.5,486.6 893.0,492.4 899.3,493.0 894.6,497.2 896.0,503.4 890.5,500.2 885.0,503.4 886.4,497.2 881.6,493.0 888.0,492.4" fill="#fff" stroke="#808000" stroke-width="1.2"/>
<polygon points="892.4,504.7 894.9,510.6 901.2,511.2 896.5,515.4 897.9,521.6 892.4,518.3 886.9,521.6 888.3,515.4 883.6,511.2 889.9,510.6" fill="#fff" stroke="#808000" stroke-width="1.2"/>
<polygon points="894.3,523.7 896.8,529.5 903.1,530.1 898.4,534.3 899.8,540.5 894.3,537.3 888.8,540.5 890.2,534.3 885.5,530.1 891.8,529.5" fill="#fff" stroke="#808000" stroke-width="1.2"/>
<polygon points="896.2,543.1 898.7,548.9 905.0,549.5 900.3,553.7 901.6,559.9 896.2,556.7 890.7,559.9 892.1,553.7 887.3,549.5 893.6,548.9" fill="#fff" stroke="#808000" stroke-width="1.2"/>
<polygon points="898.0,568.1 900.6,573.9 906.9,574.5 902.1,578.7 903.5,584.9 898.0,581.7 892.6,584.9 893.9,578.7 889.2,574.5 895.5,573.9" fill="#fff" stroke="#808000" stroke-width="1.2"/>
<polygon points="899.9,590.2 902.4,596.0 908.7,596.6 904.0,600.8 905.3,607.0 899.9,603.8 894.4,607.0 895.8,600.8 891.0,596.6 897.3,596.0" fill="#fff" stroke="#808000" stroke-width="1.2"/>
<polygon points="901.7,610.9 904.2,616.8 910.5,617.4 905.8,621.6 907.1,627.8 901.7,624.5 896.2,627.8 897.6,621.6 892.8,617.4 899.1,616.8" fill="#fff" stroke="#808000" stroke-width="1.2"/>
<polygon points="903.5,625.3 906.0,631.2 912.3,631.8 907.6,636.0 908.9,642.2 903.5,638.9 898.0,642.2 899.4,636.0 894.6,631.8 900.9,631.2" fill="#fff" stroke="#808000" stroke-width="1.2"/>
<polygon points="905.2,637.6 907.8,643.4 914.1,644.0 909.3,648.2 910.7,654.4 905.2,651.2 899.8,654.4 901.1,648.2 896.4,644.0 902.7,643.4" fill="#fff" stroke="#808000" stroke-width="1.2"/>
<polygon points="907.0,648.3 909.5,654.2 915.8,654.8 911.1,659.0 912.5,665.2 907.0,661.9 901.5,665.2 902.9,659.0 898.1,654.8 904.5,654.2" fill="#fff" stroke="#808000" stroke-width="1.2"/>
<polygon points="908.7,655.0 911.2,660.8 917.6,661.4 912.8,665.6 914.2,671.8 908.7,668.6 903.3,671.8 904.6,665.6 899.9,661.4 906.2,660.8" fill="#fff" stroke="#808000" stroke-width="1.2"/>
<polygon points="910.4,658.2 913.0,664.0 919.3,664.6 914.5,668.8 915.9,675.0 910.4,671.8 905.0,675.0 906.3,668.8 901.6,664.6 907.9,664.0" fill="#fff" stroke="#808000" stroke-width="1.2"/>
<polygon points="912.1,661.4 914.7,667.3 921.0,667.9 916.2,672.1 917.6,678.3 912.1,675.0 906.7,678.3 908.0,672.1 903.3,667.9 909.6,667.3" fill="#fff" stroke="#808000" stroke-width="1.2"/>
<polygon points="913.8,662.8 916.3,668.6 922.7,669.2 917.9,673.4 919.3,679.6 913.8,676.4 908.3,679.6 909.7,673.4 905.0,669.2 911.3,668.6" fill="#fff" stroke="#808000" stroke-width="1.2"/>
<polygon points="915.5,662.9 918.0,668.7 924.3,669.4 919.6,673.6 920.9,679.8 915.5,676.5 910.0,679.8 911.4,673.6 906.6,669.4 912.9,668.7" fill="#fff" stroke="#808000" stroke-width="1.2"/>
<polygon points="917.1,663.1 919.6,668.9 926.0,669.5 921.2,673.7 922.6,679.9 917.1,676.7 911.7,679.9 913.0,673.7 908.3,669.5 914.6,668.9" fill="#fff" stroke="#808000" stroke-width="1.2"/>
<polygon points="918.7,663.2 921.3,669.0 927.6,669.6 922.8,673.8 924.2,680.0 918.7,676.8 913.3,680.0 914.7,673.8 909.9,669.6 916.2,669.0" fill="#fff" stroke="#808000" stroke-width="1.2"/>
<polygon points="920.4,663.3 922.9,669.2 929.2,669.8 924.4,674.0 925.8,680.2 920.4,676.9 914.9,680.2 916.3,674.0 911.5,669.8 917.8,669.2" fill="#fff" stroke="#808000" stroke-width="1.2"/>
<polygon points="922.0,663.5 924.5,669.3 930.8,669.9 926.0,674.1 927.4,680.3 922.0,677.1 916.5,680.3 917.9,674.1 913.1,669.9 919.4,669.3" fill="#fff" stroke="#808000" stroke-width="1.2"/>
<polygon points="923.5,663.6 926.1,669.4 932.4,670.0 927.6,674.2 929.0,680.4 923.5,677.2 918.1,680.4 919.4,674.2 914.7,670.0 921.0,669.4" fill="#fff" stroke="#808000" stroke-width="1.2"/>
<polygon points="925.1,663.7 927.6,669.6 933.9,670.2 929.2,674.4 930.6,680.6 925.1,677.3 919.6,680.6 921.0,674.4 916.3,670.2 922.6,669.6" fill="#fff" stroke="#808000" stroke-width="1.2"/>
<polygon points="926.6,663.9 929.2,669.7 935.5,670.3 930.7,674.5 932.1,680.7 926.6,677.5 921.2,680.7 922.6,674.5 917.8,670.3 924.1,669.7" fill="#fff" stroke="#808000" stroke-width="1.2"/>
<path d="M213.0,181.5 C222.8,182.1 257.1,183.8 272.0,185.0 C286.9,186.2 292.9,187.0 302.6,188.5 C312.3,190.0 320.1,192.0 330.0,194.0 C339.9,196.0 350.6,197.3 362.3,200.6 C374.0,203.9 387.1,209.7 400.0,214.0 C412.9,218.3 426.4,222.5 440.0,226.5 C453.6,230.5 470.0,235.7 481.7,237.9 C493.4,240.2 500.1,239.4 510.0,240.0 C520.0,240.6 531.4,241.0 541.4,241.5 C551.4,242.0 558.1,242.3 570.0,243.0 C581.9,243.7 599.7,244.2 613.0,245.4 C626.3,246.6 635.5,247.9 650.0,250.0 C664.5,252.1 685.0,255.0 700.0,258.0 C715.0,261.0 730.0,263.5 740.0,268.0 C750.0,272.5 754.4,278.3 760.0,285.0 C765.6,291.7 769.3,299.7 773.6,308.4 C777.9,317.1 782.2,329.2 785.6,337.2 C789.0,345.2 791.5,350.4 794.0,356.4 C796.5,362.4 798.1,363.8 800.3,373.4 C802.5,382.9 804.8,401.4 807.0,413.7 C809.2,426.0 811.9,432.9 813.7,447.3 C815.5,461.7 816.0,481.2 818.0,500.0 C820.0,518.8 823.7,540.0 826.0,560.0 C828.3,580.0 830.0,603.3 832.0,620.0 C834.0,636.7 835.8,649.2 838.0,660.0 C840.2,670.8 842.7,679.7 845.0,685.0 C847.3,690.3 850.8,690.8 852.0,692.0" stroke="#000" stroke-width="1.6" fill="none" stroke-linejoin="round" stroke-dasharray="5.5 4.2"/>
<rect x="205.1" y="200.4" width="9.2" height="9.2" fill="#000"/>
<rect x="335.2" y="205.4" width="9.2" height="9.2" fill="#000"/>
<rect x="406.1" y="224.8" width="9.2" height="9.2" fill="#000"/>
<rect x="455.2" y="238.0" width="9.2" height="9.2" fill="#000"/>
<rect x="492.7" y="251.6" width="9.2" height="9.2" fill="#000"/>
<rect x="523.1" y="260.8" width="9.2" height="9.2" fill="#000"/>
<rect x="548.7" y="265.6" width="9.2" height="9.2" fill="#000"/>
<rect x="570.7" y="268.4" width="9.2" height="9.2" fill="#000"/>
<rect x="590.1" y="271.6" width="9.2" height="9.2" fill="#000"/>
<rect x="607.4" y="276.4" width="9.2" height="9.2" fill="#000"/>
<rect x="623.0" y="277.4" width="9.2" height="9.2" fill="#000"/>
<rect x="637.2" y="279.3" width="9.2" height="9.2" fill="#000"/>
<rect x="650.3" y="278.3" width="9.2" height="9.2" fill="#000"/>
<rect x="662.4" y="279.1" width="9.2" height="9.2" fill="#000"/>
<rect x="673.6" y="278.4" width="9.2" height="9.2" fill="#000"/>
<rect x="684.1" y="280.5" width="9.2" height="9.2" fill="#000"/>
<rect x="694.0" y="283.1" width="9.2" height="9.2" fill="#000"/>
<rect x="703.3" y="284.0" width="9.2" height="9.2" fill="#000"/>
<rect x="712.0" y="284.9" width="9.2" height="9.2" fill="#000"/>
<rect x="720.4" y="285.1" width="9.2" height="9.2" fill="#000"/>
<rect x="728.3" y="284.4" width="9.2" height="9.2" fill="#000"/>
<rect x="735.8" y="283.8" width="9.2" height="9.2" fill="#000"/>
<rect x="743.0" y="283.0" width="9.2" height="9.2" fill="#000"/>
<rect x="749.9" y="282.3" width="9.2" height="9.2" fill="#000"/>
<rect x="756.5" y="281.7" width="9.2" height="9.2" fill="#000"/>
<rect x="762.9" y="281.3" width="9.2" height="9.2" fill="#000"/>
<rect x="769.0" y="283.9" width="9.2" height="9.2" fill="#000"/>
<rect x="774.9" y="286.3" width="9.2" height="9.2" fill="#000"/>
<rect x="780.6" y="288.8" width="9.2" height="9.2" fill="#000"/>
<rect x="786.1" y="290.1" width="9.2" height="9.2" fill="#000"/>
<rect x="791.4" y="289.3" width="9.2" height="9.2" fill="#000"/>
<rect x="796.5" y="288.6" width="9.2" height="9.2" fill="#000"/>
<rect x="801.5" y="288.6" width="9.2" height="9.2" fill="#000"/>
<rect x="806.3" y="290.0" width="9.2" height="9.2" fill="#000"/>
<rect x="811.0" y="291.4" width="9.2" height="9.2" fill="#000"/>
<rect x="815.5" y="293.3" width="9.2" height="9.2" fill="#000"/>
<rect x="820.0" y="297.8" width="9.2" height="9.2" fill="#000"/>
<rect x="824.3" y="302.8" width="9.2" height="9.2" fill="#000"/>
<rect x="828.5" y="307.8" width="9.2" height="9.2" fill="#000"/>
<rect x="832.6" y="311.0" width="9.2" height="9.2" fill="#000"/>
<rect x="836.5" y="313.5" width="9.2" height="9.2" fill="#000"/>
<rect x="840.4" y="327.2" width="9.2" height="9.2" fill="#000"/>
<rect x="844.2" y="333.5" width="9.2" height="9.2" fill="#000"/>
<rect x="847.9" y="339.6" width="9.2" height="9.2" fill="#000"/>
<rect x="851.6" y="345.5" width="9.2" height="9.2" fill="#000"/>
<rect x="855.1" y="351.2" width="9.2" height="9.2" fill="#000"/>
<rect x="858.6" y="357.0" width="9.2" height="9.2" fill="#000"/>
<rect x="862.0" y="369.3" width="9.2" height="9.2" fill="#000"/>
<rect x="865.3" y="381.3" width="9.2" height="9.2" fill="#000"/>
<rect x="868.6" y="391.3" width="9.2" height="9.2" fill="#000"/>
<rect x="871.8" y="396.3" width="9.2" height="9.2" fill="#000"/>
<rect x="874.9" y="399.7" width="9.2" height="9.2" fill="#000"/>
<rect x="878.0" y="403.9" width="9.2" height="9.2" fill="#000"/>
<rect x="881.0" y="409.2" width="9.2" height="9.2" fill="#000"/>
<rect x="883.9" y="410.4" width="9.2" height="9.2" fill="#000"/>
<rect x="886.8" y="413.3" width="9.2" height="9.2" fill="#000"/>
<rect x="889.7" y="416.9" width="9.2" height="9.2" fill="#000"/>
<rect x="892.5" y="414.1" width="9.2" height="9.2" fill="#000"/>
<rect x="895.3" y="416.1" width="9.2" height="9.2" fill="#000"/>
<rect x="898.0" y="420.6" width="9.2" height="9.2" fill="#000"/>
<rect x="900.6" y="417.4" width="9.2" height="9.2" fill="#000"/>
<rect x="903.3" y="419.2" width="9.2" height="9.2" fill="#000"/>
<rect x="905.8" y="425.7" width="9.2" height="9.2" fill="#000"/>
<rect x="908.4" y="426.2" width="9.2" height="9.2" fill="#000"/>
<rect x="910.9" y="421.5" width="9.2" height="9.2" fill="#000"/>
<rect x="913.3" y="425.8" width="9.2" height="9.2" fill="#000"/>
<rect x="915.8" y="425.8" width="9.2" height="9.2" fill="#000"/>
<rect x="918.1" y="422.0" width="9.2" height="9.2" fill="#000"/>
<path d="M209.0,212.5 C219.5,212.4 251.4,212.2 272.0,212.0 C292.6,211.8 312.6,209.9 332.4,211.0 C352.2,212.1 375.9,214.9 390.8,218.6 C405.7,222.3 408.2,228.3 422.0,233.4 C435.8,238.5 460.4,245.9 473.4,249.0 C486.4,252.1 490.9,251.3 500.0,252.0 C509.1,252.7 516.5,251.6 527.9,253.0 C539.3,254.4 556.3,259.2 568.4,260.4 C580.5,261.6 590.7,258.0 600.6,260.0 C610.5,262.0 619.5,269.5 627.9,272.5 C636.3,275.5 643.7,277.2 650.8,278.0 C657.9,278.8 664.2,278.0 670.5,277.0 C676.8,276.0 682.7,272.4 688.5,272.0 C694.3,271.6 700.1,273.2 705.3,274.4 C710.5,275.6 714.9,277.3 719.5,279.2 C724.1,281.1 728.6,282.5 732.9,286.0 C737.2,289.5 741.3,293.0 745.3,300.0 C749.3,307.0 753.1,318.0 756.8,328.0 C760.5,338.0 764.0,347.5 767.5,360.0 C771.0,372.5 774.4,391.4 777.6,403.0 C780.9,414.6 783.9,423.4 787.0,429.9 C790.1,436.4 793.1,440.8 796.0,442.0 C798.9,443.2 801.6,438.7 804.4,437.0 C807.1,435.3 809.9,433.6 812.5,432.0 C815.1,430.4 817.6,427.0 820.1,427.2 C822.6,427.4 825.0,431.4 827.4,433.0 C829.8,434.6 832.1,435.9 834.4,437.0 C836.7,438.1 838.9,439.2 841.1,439.3 C843.3,439.4 845.5,438.4 847.6,437.9 C849.7,437.3 851.8,436.6 853.8,436.0 C855.8,435.4 857.8,434.8 859.7,434.0 C861.7,433.2 863.6,431.5 865.5,431.0 C867.4,430.5 869.2,430.5 871.0,431.0 C872.8,431.5 874.6,433.3 876.4,434.0 C878.2,434.7 879.9,434.9 881.6,435.2 C883.3,435.5 885.0,436.0 886.6,436.0 C888.2,436.0 889.8,435.3 891.4,435.2 C893.0,435.1 894.6,435.1 896.2,435.2 C897.8,435.3 899.3,435.8 900.8,436.0 C902.3,436.2 903.7,436.5 905.2,436.6 C906.7,436.7 908.2,436.7 909.6,436.6 C911.0,436.5 912.4,436.2 913.8,436.0 C915.2,435.8 916.5,435.3 917.9,435.2 C919.3,435.1 921.3,435.2 922.0,435.2" stroke="#c4c0c2" stroke-width="1.0" fill="none" stroke-linejoin="round"/>
<path d="M209.7,203.6v17.8M200.8,212.5h17.8M201.3,204.1l16.8,16.8M201.3,220.9l16.8,-16.8" stroke="#7a7a7a" stroke-width="1.2" fill="none"/>
<path d="M390.4,209.6v17.8M381.5,218.5h17.8M382.0,210.1l16.8,16.8M382.0,226.9l16.8,-16.8" stroke="#7a7a7a" stroke-width="1.2" fill="none"/>
<path d="M473.3,240.1v17.8M464.4,249.0h17.8M464.9,240.6l16.8,16.8M464.9,257.4l16.8,-16.8" stroke="#7a7a7a" stroke-width="1.2" fill="none"/>
<path d="M527.7,244.1v17.8M518.8,253.0h17.8M519.3,244.6l16.8,16.8M519.3,261.4l16.8,-16.8" stroke="#7a7a7a" stroke-width="1.2" fill="none"/>
<path d="M568.3,251.5v17.8M559.4,260.4h17.8M559.9,252.0l16.8,16.8M559.9,268.8l16.8,-16.8" stroke="#7a7a7a" stroke-width="1.2" fill="none"/>
<path d="M600.7,251.1v17.8M591.8,260.0h17.8M592.3,251.6l16.8,16.8M592.3,268.4l16.8,-16.8" stroke="#7a7a7a" stroke-width="1.2" fill="none"/>
<path d="M627.6,263.5v17.8M618.7,272.4h17.8M619.2,264.0l16.8,16.8M619.2,280.8l16.8,-16.8" stroke="#7a7a7a" stroke-width="1.2" fill="none"/>
<path d="M650.6,269.1v17.8M641.7,278.0h17.8M642.2,269.6l16.8,16.8M642.2,286.4l16.8,-16.8" stroke="#7a7a7a" stroke-width="1.2" fill="none"/>
<path d="M670.8,268.0v17.8M661.9,276.9h17.8M662.4,268.5l16.8,16.8M662.4,285.3l16.8,-16.8" stroke="#7a7a7a" stroke-width="1.2" fill="none"/>
<path d="M688.7,263.1v17.8M679.8,272.0h17.8M680.3,263.6l16.8,16.8M680.3,280.4l16.8,-16.8" stroke="#7a7a7a" stroke-width="1.2" fill="none"/>
<path d="M704.8,265.4v17.8M695.9,274.3h17.8M696.4,265.9l16.8,16.8M696.4,282.7l16.8,-16.8" stroke="#7a7a7a" stroke-width="1.2" fill="none"/>
<path d="M719.5,270.3v17.8M710.6,279.2h17.8M711.1,270.8l16.8,16.8M711.1,287.6l16.8,-16.8" stroke="#7a7a7a" stroke-width="1.2" fill="none"/>
<path d="M732.9,277.1v17.8M724.0,286.0h17.8M724.5,277.6l16.8,16.8M724.5,294.4l16.8,-16.8" stroke="#7a7a7a" stroke-width="1.2" fill="none"/>
<path d="M745.3,291.1v17.8M736.4,300.0h17.8M736.9,291.6l16.8,16.8M736.9,308.4l16.8,-16.8" stroke="#7a7a7a" stroke-width="1.2" fill="none"/>
<path d="M756.8,319.0v17.8M747.9,327.9h17.8M748.4,319.5l16.8,16.8M748.4,336.3l16.8,-16.8" stroke="#7a7a7a" stroke-width="1.2" fill="none"/>
<path d="M767.5,351.1v17.8M758.6,360.0h17.8M759.1,351.6l16.8,16.8M759.1,368.4l16.8,-16.8" stroke="#7a7a7a" stroke-width="1.2" fill="none"/>
<path d="M777.6,393.9v17.8M768.7,402.8h17.8M769.2,394.4l16.8,16.8M769.2,411.2l16.8,-16.8" stroke="#7a7a7a" stroke-width="1.2" fill="none"/>
<path d="M787.0,421.0v17.8M778.1,429.9h17.8M778.6,421.5l16.8,16.8M778.6,438.3l16.8,-16.8" stroke="#7a7a7a" stroke-width="1.2" fill="none"/>
<path d="M796.0,433.0v17.8M787.1,441.9h17.8M787.6,433.5l16.8,16.8M787.6,450.3l16.8,-16.8" stroke="#7a7a7a" stroke-width="1.2" fill="none"/>
<path d="M804.4,428.1v17.8M795.5,437.0h17.8M796.0,428.6l16.8,16.8M796.0,445.4l16.8,-16.8" stroke="#7a7a7a" stroke-width="1.2" fill="none"/>
<path d="M812.5,423.1v17.8M803.6,432.0h17.8M804.1,423.6l16.8,16.8M804.1,440.4l16.8,-16.8" stroke="#7a7a7a" stroke-width="1.2" fill="none"/>
<path d="M820.1,418.3v17.8M811.2,427.2h17.8M811.7,418.8l16.8,16.8M811.7,435.6l16.8,-16.8" stroke="#7a7a7a" stroke-width="1.2" fill="none"/>
<path d="M827.4,424.1v17.8M818.5,433.0h17.8M819.0,424.6l16.8,16.8M819.0,441.4l16.8,-16.8" stroke="#7a7a7a" stroke-width="1.2" fill="none"/>
<path d="M834.4,428.1v17.8M825.5,437.0h17.8M826.0,428.6l16.8,16.8M826.0,445.4l16.8,-16.8" stroke="#7a7a7a" stroke-width="1.2" fill="none"/>
<path d="M841.1,430.4v17.8M832.2,439.3h17.8M832.7,430.9l16.8,16.8M832.7,447.7l16.8,-16.8" stroke="#7a7a7a" stroke-width="1.2" fill="none"/>
<path d="M847.6,429.0v17.8M838.7,437.9h17.8M839.2,429.5l16.8,16.8M839.2,446.3l16.8,-16.8" stroke="#7a7a7a" stroke-width="1.2" fill="none"/>
<path d="M853.8,427.1v17.8M844.9,436.0h17.8M845.4,427.6l16.8,16.8M845.4,444.4l16.8,-16.8" stroke="#7a7a7a" stroke-width="1.2" fill="none"/>
<path d="M859.7,425.1v17.8M850.8,434.0h17.8M851.3,425.6l16.8,16.8M851.3,442.4l16.8,-16.8" stroke="#7a7a7a" stroke-width="1.2" fill="none"/>
<path d="M865.5,422.1v17.8M856.6,431.0h17.8M857.1,422.6l16.8,16.8M857.1,439.4l16.8,-16.8" stroke="#7a7a7a" stroke-width="1.2" fill="none"/>
<path d="M871.0,422.1v17.8M862.1,431.0h17.8M862.6,422.6l16.8,16.8M862.6,439.4l16.8,-16.8" stroke="#7a7a7a" stroke-width="1.2" fill="none"/>
<path d="M876.4,425.1v17.8M867.5,434.0h17.8M868.0,425.6l16.8,16.8M868.0,442.4l16.8,-16.8" stroke="#7a7a7a" stroke-width="1.2" fill="none"/>
<path d="M881.6,426.3v17.8M872.7,435.2h17.8M873.2,426.8l16.8,16.8M873.2,443.6l16.8,-16.8" stroke="#7a7a7a" stroke-width="1.2" fill="none"/>
<path d="M886.6,427.1v17.8M877.7,436.0h17.8M878.2,427.6l16.8,16.8M878.2,444.4l16.8,-16.8" stroke="#7a7a7a" stroke-width="1.2" fill="none"/>
<path d="M891.4,426.3v17.8M882.5,435.2h17.8M883.0,426.8l16.8,16.8M883.0,443.6l16.8,-16.8" stroke="#7a7a7a" stroke-width="1.2" fill="none"/>
<path d="M896.2,426.3v17.8M887.3,435.2h17.8M887.8,426.8l16.8,16.8M887.8,443.6l16.8,-16.8" stroke="#7a7a7a" stroke-width="1.2" fill="none"/>
<path d="M900.8,427.1v17.8M891.9,436.0h17.8M892.4,427.6l16.8,16.8M892.4,444.4l16.8,-16.8" stroke="#7a7a7a" stroke-width="1.2" fill="none"/>
<path d="M905.2,427.7v17.8M896.3,436.6h17.8M896.8,428.2l16.8,16.8M896.8,445.0l16.8,-16.8" stroke="#7a7a7a" stroke-width="1.2" fill="none"/>
<path d="M909.6,427.7v17.8M900.7,436.6h17.8M901.2,428.2l16.8,16.8M901.2,445.0l16.8,-16.8" stroke="#7a7a7a" stroke-width="1.2" fill="none"/>
<path d="M913.8,427.1v17.8M904.9,436.0h17.8M905.4,427.6l16.8,16.8M905.4,444.4l16.8,-16.8" stroke="#7a7a7a" stroke-width="1.2" fill="none"/>
<path d="M917.9,426.3v17.8M909.0,435.2h17.8M909.5,426.8l16.8,16.8M909.5,443.6l16.8,-16.8" stroke="#7a7a7a" stroke-width="1.2" fill="none"/>
<path d="M922.0,426.3v17.8M913.1,435.2h17.8M913.6,426.8l16.8,16.8M913.6,443.6l16.8,-16.8" stroke="#7a7a7a" stroke-width="1.2" fill="none"/>
<path d="M209.0,176.0 L240.0,177.8 L272.0,179.3 L302.6,181.0 L330.0,183.0 L362.3,187.2 L390.6,194.0 L422.0,203.6 L450.0,210.0 L472.7,212.5 L490.0,217.0 L511.5,223.0 L527.9,229.0 L550.0,233.0 L569.7,231.0 L585.0,232.0 L600.6,232.5 L615.0,245.0 L627.4,252.0 L640.0,252.0 L650.8,250.0 L660.0,253.0 L670.5,256.0 L688.5,262.4 L705.3,265.4 L719.5,266.0 L732.9,266.6 L745.3,266.0 L756.8,265.4 L767.5,273.2 L777.6,269.0 L787.0,272.0 L796.0,272.0 L804.4,269.6 L812.5,268.4 L820.1,270.8 L827.4,258.8 L834.4,254.5 L841.1,264.6 L847.6,268.2 L853.8,267.0 L859.7,268.0 L865.5,267.4 L871.0,255.4 L876.4,255.4 L881.6,266.8 L886.6,260.8 L891.4,266.8 L896.2,266.8 L900.8,266.8 L905.2,257.2 L909.6,252.4 L913.8,251.2" stroke="#0000e0" stroke-width="1.9" fill="none" stroke-linejoin="round"/>
<path d="M913.8,251.2 L917.9,215.2 L922.0,216.4 L923.6,224.8 L923.6,254.8" stroke="#0000e0" stroke-width="1.9" fill="none" stroke-dasharray="6 5"/>
<path d="M920.4,209 L920.4,205" stroke="#0000e0" stroke-width="2.2"/>
<rect x="202.7" y="169.0" width="14" height="14" fill="#fff" stroke="#2323d8" stroke-width="1.4"/>
<rect x="383.4" y="187.0" width="14" height="14" fill="#fff" stroke="#2323d8" stroke-width="1.4"/>
<rect x="466.3" y="205.7" width="14" height="14" fill="#fff" stroke="#2323d8" stroke-width="1.4"/>
<rect x="520.7" y="221.9" width="14" height="14" fill="#fff" stroke="#2323d8" stroke-width="1.4"/>
<rect x="561.3" y="224.1" width="14" height="14" fill="#fff" stroke="#2323d8" stroke-width="1.4"/>
<rect x="593.7" y="225.5" width="14" height="14" fill="#fff" stroke="#2323d8" stroke-width="1.4"/>
<rect x="620.6" y="245.0" width="14" height="14" fill="#fff" stroke="#2323d8" stroke-width="1.4"/>
<rect x="643.6" y="243.0" width="14" height="14" fill="#fff" stroke="#2323d8" stroke-width="1.4"/>
<rect x="663.8" y="249.1" width="14" height="14" fill="#fff" stroke="#2323d8" stroke-width="1.4"/>
<rect x="681.7" y="255.4" width="14" height="14" fill="#fff" stroke="#2323d8" stroke-width="1.4"/>
<rect x="697.8" y="258.3" width="14" height="14" fill="#fff" stroke="#2323d8" stroke-width="1.4"/>
<rect x="712.5" y="259.0" width="14" height="14" fill="#fff" stroke="#2323d8" stroke-width="1.4"/>
<rect x="725.9" y="259.6" width="14" height="14" fill="#fff" stroke="#2323d8" stroke-width="1.4"/>
<rect x="738.3" y="259.0" width="14" height="14" fill="#fff" stroke="#2323d8" stroke-width="1.4"/>
<rect x="749.8" y="258.4" width="14" height="14" fill="#fff" stroke="#2323d8" stroke-width="1.4"/>
<rect x="760.5" y="266.2" width="14" height="14" fill="#fff" stroke="#2323d8" stroke-width="1.4"/>
<rect x="770.6" y="262.0" width="14" height="14" fill="#fff" stroke="#2323d8" stroke-width="1.4"/>
<rect x="780.0" y="265.0" width="14" height="14" fill="#fff" stroke="#2323d8" stroke-width="1.4"/>
<rect x="789.0" y="265.0" width="14" height="14" fill="#fff" stroke="#2323d8" stroke-width="1.4"/>
<rect x="797.4" y="262.6" width="14" height="14" fill="#fff" stroke="#2323d8" stroke-width="1.4"/>
<rect x="805.5" y="261.4" width="14" height="14" fill="#fff" stroke="#2323d8" stroke-width="1.4"/>
<rect x="813.1" y="263.7" width="14" height="14" fill="#fff" stroke="#2323d8" stroke-width="1.4"/>
<rect x="820.4" y="251.8" width="14" height="14" fill="#fff" stroke="#2323d8" stroke-width="1.4"/>
<rect x="827.4" y="247.6" width="14" height="14" fill="#fff" stroke="#2323d8" stroke-width="1.4"/>
<rect x="834.1" y="257.6" width="14" height="14" fill="#fff" stroke="#2323d8" stroke-width="1.4"/>
<rect x="840.6" y="261.2" width="14" height="14" fill="#fff" stroke="#2323d8" stroke-width="1.4"/>
<rect x="846.8" y="260.0" width="14" height="14" fill="#fff" stroke="#2323d8" stroke-width="1.4"/>
<rect x="852.7" y="261.0" width="14" height="14" fill="#fff" stroke="#2323d8" stroke-width="1.4"/>
<rect x="858.5" y="260.4" width="14" height="14" fill="#fff" stroke="#2323d8" stroke-width="1.4"/>
<rect x="864.0" y="248.4" width="14" height="14" fill="#fff" stroke="#2323d8" stroke-width="1.4"/>
<rect x="869.4" y="248.4" width="14" height="14" fill="#fff" stroke="#2323d8" stroke-width="1.4"/>
<rect x="874.6" y="259.7" width="14" height="14" fill="#fff" stroke="#2323d8" stroke-width="1.4"/>
<rect x="879.6" y="253.8" width="14" height="14" fill="#fff" stroke="#2323d8" stroke-width="1.4"/>
<rect x="884.4" y="259.8" width="14" height="14" fill="#fff" stroke="#2323d8" stroke-width="1.4"/>
<rect x="889.2" y="259.8" width="14" height="14" fill="#fff" stroke="#2323d8" stroke-width="1.4"/>
<rect x="893.8" y="259.8" width="14" height="14" fill="#fff" stroke="#2323d8" stroke-width="1.4"/>
<rect x="898.2" y="250.2" width="14" height="14" fill="#fff" stroke="#2323d8" stroke-width="1.4"/>
<rect x="902.6" y="245.4" width="14" height="14" fill="#fff" stroke="#2323d8" stroke-width="1.4"/>
<rect x="906.8" y="244.1" width="14" height="14" fill="#fff" stroke="#2323d8" stroke-width="1.4"/>
<rect x="910.9" y="208.2" width="14" height="14" fill="#fff" stroke="#2323d8" stroke-width="1.4"/>
<rect x="915.0" y="209.4" width="14" height="14" fill="#fff" stroke="#2323d8" stroke-width="1.4"/>
<path d="M209.0,182.5 L240.0,183.5 L272.0,185.0 L302.6,187.2 L340.0,191.0 L370.0,195.0 L390.6,199.5 L430.0,209.0 L473.4,219.0 L500.0,220.0 L527.9,221.5 L550.0,227.0 L568.9,232.0 L585.0,236.0 L600.6,240.0 L627.4,247.0 L650.8,248.0 L671.0,249.0 L688.5,248.0 L705.3,249.0 L719.5,249.5 L728.0,254.0 L737.0,265.0 L745.3,277.0 L756.8,293.3 L767.5,316.8 L777.6,331.0 L783.0,360.0 L787.0,392.0 L789.5,430.0 L792.0,480.0 L794.3,520.0 L796.0,548.2 L800.0,568.0 L804.4,584.0 L812.5,604.4 L820.1,596.2 L827.4,601.2 L834.4,596.2 L841.1,599.5 L847.6,611.0 L853.8,615.9 L859.7,613.0 L865.5,609.0 L871.0,607.7 L876.4,605.0 L881.6,604.4 L886.6,604.4 L891.4,604.4 L896.2,604.4 L900.8,606.0 L905.2,606.0 L909.6,606.0 L913.8,606.0 L917.9,606.0 L922.0,604.4 L924.6,603.0 L924.6,630.0" stroke="#800000" stroke-width="1.3" fill="none" stroke-linejoin="round"/>
<path d="M209.7,171.7L219.3,187.9L200.1,187.9Z" fill="#800000"/>
<path d="M390.4,188.7L400.0,204.9L380.8,204.9Z" fill="#800000"/>
<path d="M473.3,208.2L482.9,224.4L463.7,224.4Z" fill="#800000"/>
<path d="M527.7,210.7L537.3,226.9L518.1,226.9Z" fill="#800000"/>
<path d="M568.3,221.0L577.9,237.2L558.7,237.2Z" fill="#800000"/>
<path d="M600.7,229.2L610.3,245.4L591.1,245.4Z" fill="#800000"/>
<path d="M627.6,236.2L637.2,252.4L618.0,252.4Z" fill="#800000"/>
<path d="M650.6,237.2L660.2,253.4L641.0,253.4Z" fill="#800000"/>
<path d="M670.8,238.2L680.4,254.4L661.2,254.4Z" fill="#800000"/>
<path d="M688.7,237.2L698.3,253.4L679.1,253.4Z" fill="#800000"/>
<path d="M704.8,238.2L714.4,254.4L695.2,254.4Z" fill="#800000"/>
<path d="M719.5,238.7L729.1,254.9L709.9,254.9Z" fill="#800000"/>
<path d="M732.9,249.2L742.5,265.4L723.3,265.4Z" fill="#800000"/>
<path d="M745.3,266.2L754.9,282.4L735.7,282.4Z" fill="#800000"/>
<path d="M756.8,282.5L766.4,298.7L747.2,298.7Z" fill="#800000"/>
<path d="M767.5,306.0L777.1,322.2L757.9,322.2Z" fill="#800000"/>
<path d="M777.6,320.1L787.2,336.3L768.0,336.3Z" fill="#800000"/>
<path d="M787.0,381.5L796.6,397.7L777.4,397.7Z" fill="#800000"/>
<path d="M796.0,536.8L805.6,553.0L786.4,553.0Z" fill="#800000"/>
<path d="M804.4,573.3L814.0,589.5L794.8,589.5Z" fill="#800000"/>
<path d="M812.5,593.5L822.1,609.7L802.9,609.7Z" fill="#800000"/>
<path d="M820.1,585.4L829.7,601.6L810.5,601.6Z" fill="#800000"/>
<path d="M827.4,590.4L837.0,606.6L817.8,606.6Z" fill="#800000"/>
<path d="M834.4,585.4L844.0,601.6L824.8,601.6Z" fill="#800000"/>
<path d="M841.1,588.8L850.7,605.0L831.5,605.0Z" fill="#800000"/>
<path d="M847.6,600.2L857.2,616.4L838.0,616.4Z" fill="#800000"/>
<path d="M853.8,605.1L863.4,621.3L844.2,621.3Z" fill="#800000"/>
<path d="M859.7,602.2L869.3,618.4L850.1,618.4Z" fill="#800000"/>
<path d="M865.5,598.2L875.1,614.4L855.9,614.4Z" fill="#800000"/>
<path d="M871.0,596.9L880.6,613.1L861.4,613.1Z" fill="#800000"/>
<path d="M876.4,594.2L886.0,610.4L866.8,610.4Z" fill="#800000"/>
<path d="M881.6,593.6L891.2,609.8L872.0,609.8Z" fill="#800000"/>
<path d="M886.6,593.6L896.2,609.8L877.0,609.8Z" fill="#800000"/>
<path d="M891.4,593.6L901.0,609.8L881.8,609.8Z" fill="#800000"/>
<path d="M896.2,593.6L905.8,609.8L886.6,609.8Z" fill="#800000"/>
<path d="M900.8,595.2L910.4,611.4L891.2,611.4Z" fill="#800000"/>
<path d="M905.2,595.2L914.8,611.4L895.6,611.4Z" fill="#800000"/>
<path d="M909.6,595.2L919.2,611.4L900.0,611.4Z" fill="#800000"/>
<path d="M913.8,595.2L923.4,611.4L904.2,611.4Z" fill="#800000"/>
<path d="M917.9,595.2L927.5,611.4L908.3,611.4Z" fill="#800000"/>
<path d="M922.0,593.6L931.6,609.8L912.4,609.8Z" fill="#800000"/>
<path d="M209.0,189.8 C214.2,190.3 229.4,191.9 240.0,193.0 C250.6,194.1 262.7,194.9 272.7,196.1 C282.7,197.3 290.1,198.2 300.0,200.0 C309.9,201.8 322.4,204.1 332.4,206.6 C342.4,209.1 350.3,211.8 360.0,215.0 C369.7,218.2 379.3,221.9 390.6,226.0 C401.9,230.1 418.1,235.4 428.0,239.4 C437.9,243.4 442.6,246.5 450.0,250.0 C457.4,253.5 464.4,256.9 472.7,260.3 C481.0,263.8 490.4,267.9 499.6,270.7 C508.8,273.5 519.5,275.7 527.9,277.4 C536.3,279.1 543.3,280.0 550.0,281.0 C556.7,282.0 562.7,282.5 568.2,283.3 C573.7,284.1 577.6,286.0 583.0,285.7 C588.4,285.4 595.3,282.6 600.6,281.7 C605.9,280.8 610.5,280.9 615.0,280.5 C619.5,280.1 623.7,278.8 627.9,279.5 C632.1,280.2 636.2,283.2 640.0,285.0 C643.8,286.8 647.5,289.6 650.8,290.4 C654.1,291.1 656.7,289.7 660.0,289.5 C663.3,289.3 665.8,288.9 670.5,289.3 C675.2,289.7 682.9,291.1 688.5,291.8 C694.1,292.5 698.8,293.2 704.0,293.6 C709.2,294.0 714.7,294.8 719.5,294.2 C724.3,293.6 728.6,289.2 732.9,290.0 C737.2,290.8 741.3,295.2 745.3,298.8 C749.3,302.4 753.1,306.3 756.8,311.4 C760.5,316.5 764.0,323.5 767.5,329.4 C771.0,335.3 774.4,341.1 777.6,346.8 C780.9,352.5 783.9,355.5 787.0,363.5 C790.1,371.5 793.1,384.1 796.0,394.9 C798.9,405.7 801.6,418.0 804.4,428.5 C807.1,439.0 809.9,445.5 812.5,457.7 C815.1,469.9 817.6,484.2 820.1,501.9 C822.6,519.6 825.0,543.0 827.4,564.0 C829.8,585.0 832.1,610.9 834.4,628.1 C836.7,645.3 838.9,659.1 841.1,667.1 C843.3,675.1 845.5,674.4 847.6,676.2 C849.7,678.0 851.8,677.5 853.8,677.8 C855.8,678.1 857.8,677.9 859.7,677.8 C861.7,677.7 863.6,677.3 865.5,677.0 C867.4,676.7 869.2,677.1 871.0,676.2 C872.8,675.3 874.6,672.5 876.4,671.7 C878.2,671.0 879.9,670.4 881.6,671.7 C883.3,673.0 885.0,678.8 886.6,679.3 C888.2,679.8 889.8,675.0 891.4,674.7 C893.0,674.5 894.6,677.0 896.2,677.8 C897.8,678.6 899.3,679.0 900.8,679.3 C902.3,679.5 903.7,679.0 905.2,679.3 C906.7,679.5 908.2,680.7 909.6,680.8 C911.0,680.9 912.4,680.5 913.8,680.0 C915.2,679.5 916.5,677.9 917.9,677.8 C919.3,677.7 921.0,679.1 922.0,679.3 C923.0,679.5 923.3,679.0 923.6,679.0" stroke="#000" stroke-width="1.2" fill="none" stroke-linejoin="round"/>
<circle cx="209.7" cy="189.9" r="7.6" fill="#fff" stroke="#000" stroke-width="1.4"/>
<circle cx="390.4" cy="225.9" r="7.6" fill="#fff" stroke="#000" stroke-width="1.4"/>
<circle cx="473.3" cy="260.5" r="7.6" fill="#fff" stroke="#000" stroke-width="1.4"/>
<circle cx="527.7" cy="277.4" r="7.6" fill="#fff" stroke="#000" stroke-width="1.4"/>
<circle cx="568.3" cy="283.3" r="7.6" fill="#fff" stroke="#000" stroke-width="1.4"/>
<circle cx="600.7" cy="281.7" r="7.6" fill="#fff" stroke="#000" stroke-width="1.4"/>
<circle cx="627.6" cy="279.5" r="7.6" fill="#fff" stroke="#000" stroke-width="1.4"/>
<circle cx="650.6" cy="290.3" r="7.6" fill="#fff" stroke="#000" stroke-width="1.4"/>
<circle cx="670.8" cy="289.3" r="7.6" fill="#fff" stroke="#000" stroke-width="1.4"/>
<circle cx="688.7" cy="291.8" r="7.6" fill="#fff" stroke="#000" stroke-width="1.4"/>
<circle cx="704.8" cy="293.6" r="7.6" fill="#fff" stroke="#000" stroke-width="1.4"/>
<circle cx="719.5" cy="294.2" r="7.6" fill="#fff" stroke="#000" stroke-width="1.4"/>
<circle cx="732.9" cy="290.0" r="7.6" fill="#fff" stroke="#000" stroke-width="1.4"/>
<circle cx="745.3" cy="298.8" r="7.6" fill="#fff" stroke="#000" stroke-width="1.4"/>
<circle cx="756.8" cy="311.4" r="7.6" fill="#fff" stroke="#000" stroke-width="1.4"/>
<circle cx="767.5" cy="329.4" r="7.6" fill="#fff" stroke="#000" stroke-width="1.4"/>
<circle cx="777.6" cy="346.7" r="7.6" fill="#fff" stroke="#000" stroke-width="1.4"/>
<circle cx="787.0" cy="363.6" r="7.6" fill="#fff" stroke="#000" stroke-width="1.4"/>
<circle cx="796.0" cy="394.8" r="7.6" fill="#fff" stroke="#000" stroke-width="1.4"/>
<circle cx="804.4" cy="428.6" r="7.6" fill="#fff" stroke="#000" stroke-width="1.4"/>
<circle cx="812.5" cy="457.6" r="7.6" fill="#fff" stroke="#000" stroke-width="1.4"/>
<circle cx="820.1" cy="502.2" r="7.6" fill="#fff" stroke="#000" stroke-width="1.4"/>
<circle cx="827.4" cy="564.4" r="7.6" fill="#fff" stroke="#000" stroke-width="1.4"/>
<circle cx="834.4" cy="628.3" r="7.6" fill="#fff" stroke="#000" stroke-width="1.4"/>
<circle cx="841.1" cy="667.2" r="7.6" fill="#fff" stroke="#000" stroke-width="1.4"/>
<circle cx="847.6" cy="676.2" r="7.6" fill="#fff" stroke="#000" stroke-width="1.4"/>
<circle cx="853.8" cy="677.8" r="7.6" fill="#fff" stroke="#000" stroke-width="1.4"/>
<circle cx="859.7" cy="677.8" r="7.6" fill="#fff" stroke="#000" stroke-width="1.4"/>
<circle cx="865.5" cy="677.0" r="7.6" fill="#fff" stroke="#000" stroke-width="1.4"/>
<circle cx="871.0" cy="676.2" r="7.6" fill="#fff" stroke="#000" stroke-width="1.4"/>
<circle cx="876.4" cy="671.7" r="7.6" fill="#fff" stroke="#000" stroke-width="1.4"/>
<circle cx="881.6" cy="671.7" r="7.6" fill="#fff" stroke="#000" stroke-width="1.4"/>
<circle cx="886.6" cy="679.3" r="7.6" fill="#fff" stroke="#000" stroke-width="1.4"/>
<circle cx="891.4" cy="674.7" r="7.6" fill="#fff" stroke="#000" stroke-width="1.4"/>
<circle cx="896.2" cy="677.8" r="7.6" fill="#fff" stroke="#000" stroke-width="1.4"/>
<circle cx="900.8" cy="679.3" r="7.6" fill="#fff" stroke="#000" stroke-width="1.4"/>
<circle cx="905.2" cy="679.3" r="7.6" fill="#fff" stroke="#000" stroke-width="1.4"/>
<circle cx="909.6" cy="680.8" r="7.6" fill="#fff" stroke="#000" stroke-width="1.4"/>
<circle cx="913.8" cy="680.0" r="7.6" fill="#fff" stroke="#000" stroke-width="1.4"/>
<circle cx="917.9" cy="677.8" r="7.6" fill="#fff" stroke="#000" stroke-width="1.4"/>
<circle cx="922.0" cy="679.3" r="7.6" fill="#fff" stroke="#000" stroke-width="1.4"/>
<path d="M213.0,102.5 C217.0,102.9 228.9,104.0 236.9,104.9 C244.9,105.8 252.9,106.6 260.8,107.9 C268.8,109.2 276.7,110.8 284.6,112.7 C292.6,114.6 300.9,117.0 308.5,119.3 C316.1,121.6 324.2,124.6 330.0,126.8 C335.8,129.0 338.7,130.6 343.1,132.7 C347.5,134.8 351.8,136.8 356.2,139.2 C360.6,141.6 364.9,144.5 369.3,147.1 C373.7,149.7 378.0,152.3 382.4,155.0 C386.8,157.7 391.1,160.6 395.5,163.5 C399.9,166.4 404.5,169.8 408.6,172.7 C412.7,175.6 416.4,178.4 420.0,181.0 C423.6,183.6 426.7,186.0 430.0,188.3 C433.3,190.6 436.7,192.9 440.0,194.8 C443.3,196.7 446.7,198.4 450.0,199.8 C453.3,201.2 456.8,202.6 460.0,203.5 C463.2,204.4 465.9,205.0 469.2,205.5 C472.5,206.0 476.1,206.3 480.0,206.6 C483.9,206.9 488.1,207.3 492.4,207.5 C496.6,207.7 500.9,207.7 505.5,207.9 C510.1,208.1 515.1,208.3 520.0,208.5 C524.9,208.7 530.0,208.8 535.0,209.0 C540.0,209.2 544.0,209.2 550.0,210.0 C556.0,210.8 564.5,211.8 571.0,214.0 C577.5,216.2 583.8,220.6 589.0,223.5 C594.2,226.4 597.8,228.9 602.0,231.2 C606.2,233.5 609.0,236.6 614.0,237.2 C619.0,237.8 626.0,235.5 632.0,234.8 C638.0,234.1 645.4,233.8 650.0,233.0 C654.6,232.2 656.6,231.7 659.6,230.0 C662.6,228.3 664.6,224.9 668.0,222.8 C671.4,220.7 676.0,218.0 680.0,217.4 C684.0,216.8 688.0,218.2 692.0,219.2 C696.0,220.2 700.0,221.6 704.0,223.4 C708.0,225.2 711.7,227.8 716.0,230.0 C720.3,232.2 726.0,234.5 730.0,236.6 C734.0,238.7 736.7,240.3 740.0,242.7 C743.3,245.0 746.1,250.5 750.0,250.7 C753.9,250.9 759.1,243.7 763.5,244.0 C767.9,244.3 772.6,252.8 776.3,252.8 C780.0,252.8 783.2,246.1 785.7,244.0 C788.2,241.9 788.5,240.4 791.0,240.0 C793.5,239.6 796.2,244.2 800.4,241.3 C804.6,238.4 811.8,225.8 816.0,222.8 C820.2,219.8 822.1,221.8 825.7,223.4 C829.3,225.0 833.7,234.2 837.7,232.4 C841.7,230.6 846.2,213.8 849.5,212.5 C852.8,211.2 854.3,225.0 857.3,224.8 C860.2,224.7 864.2,212.1 867.2,211.6 C870.2,211.1 873.0,218.8 875.6,221.8 C878.2,224.8 880.2,228.5 882.8,229.6 C885.4,230.7 888.6,227.9 891.2,228.4 C893.8,228.9 896.4,231.0 898.4,232.6 C900.4,234.2 900.8,239.2 903.2,238.0 C905.6,236.8 910.6,227.0 912.8,225.4 C915.0,223.8 915.0,224.9 916.4,228.4 C917.8,231.9 919.9,241.9 921.2,246.4 C922.5,250.9 923.7,249.4 924.2,255.4 C924.7,261.4 924.2,277.9 924.2,282.4" stroke="#000" stroke-width="3.6" fill="none" stroke-linejoin="round"/>
<path d="M213.0,161.8 C217.5,162.2 230.1,163.5 240.0,164.5 C249.9,165.5 262.4,166.4 272.7,167.8 C283.0,169.2 292.1,171.0 302.0,173.0 C311.9,175.0 322.7,177.1 332.4,179.7 C342.1,182.3 352.1,185.6 360.0,188.5 C367.9,191.4 372.7,193.8 380.0,197.0 C387.3,200.2 395.4,204.3 403.7,207.4 C412.0,210.5 422.0,213.4 430.0,215.5 C438.0,217.6 445.2,218.6 451.8,220.0 C458.4,221.4 459.8,222.7 469.3,223.7 C478.8,224.7 496.6,225.5 508.6,226.0 C520.6,226.5 532.5,225.3 541.4,226.5 C550.3,227.7 555.7,230.8 561.8,233.1 C567.9,235.4 572.7,238.8 578.2,240.5 C583.7,242.2 588.2,243.0 594.6,243.5 C601.0,244.0 609.1,244.0 616.4,243.5 C623.7,243.0 632.8,241.5 638.3,240.7 C643.8,239.9 645.6,238.9 649.2,238.5 C652.8,238.1 656.5,237.0 660.1,238.5 C663.7,240.0 667.7,244.5 671.0,247.3 C674.3,250.1 676.8,254.0 680.0,255.5 C683.2,257.0 687.0,256.6 690.0,256.5 C693.0,256.4 694.7,254.4 698.0,255.2 C701.3,256.0 706.4,261.0 710.0,261.2 C713.6,261.4 716.4,257.6 719.7,256.4 C723.0,255.2 726.1,253.6 729.6,254.0 C733.1,254.4 738.1,257.1 741.0,259.0 C743.9,260.9 744.6,262.7 746.7,265.5 C748.8,268.3 751.2,273.2 753.4,275.6 C755.6,278.0 757.3,279.1 760.1,279.6 C762.9,280.1 766.8,278.0 770.2,278.6 C773.6,279.2 776.9,281.8 780.3,283.0 C783.7,284.2 787.6,284.0 790.4,285.7 C793.2,287.4 794.9,291.0 797.1,293.1 C799.3,295.2 800.8,296.7 803.8,298.4 C806.8,300.1 812.2,301.4 814.9,303.2 C817.6,305.0 818.7,306.7 820.2,309.3 C821.7,311.9 822.5,315.5 823.7,318.9 C824.9,322.2 825.8,325.9 827.2,329.4 C828.7,332.9 830.7,336.5 832.4,339.9 C834.1,343.3 836.0,346.6 837.6,350.0 C839.2,353.4 840.1,353.9 842.0,360.0 C843.9,366.1 846.7,377.9 848.7,386.9 C850.7,395.8 852.0,403.6 854.0,413.7 C856.0,423.8 858.5,435.9 860.7,447.3 C863.0,458.7 864.5,464.7 867.5,482.0 C870.5,499.3 876.0,534.7 878.5,551.0 C881.0,567.3 881.1,571.4 882.6,580.0 C884.1,588.6 885.7,594.0 887.2,602.9 C888.7,611.8 890.3,623.8 891.8,633.5 C893.3,643.2 894.1,654.4 896.4,661.0 C898.7,667.6 903.0,669.6 905.5,673.2 C908.0,676.8 909.7,681.1 911.7,682.4 C913.8,683.7 915.6,680.0 917.8,680.8 C920.0,681.5 923.9,681.3 925.0,686.9 C926.1,692.5 924.7,709.8 924.6,714.4" stroke="#00ffff" stroke-width="5.4" fill="none" stroke-linejoin="round"/>
</g>
<rect x="213.3" y="38.3" width="740.3" height="723.3000000000001" fill="none" stroke="#000" stroke-width="2.7"/>
<line x1="205.3" y1="38.3" x2="213.3" y2="38.3" stroke="#000" stroke-width="2.7"/>
<line x1="198.3" y1="128.7" x2="213.3" y2="128.7" stroke="#000" stroke-width="2.7"/>
<line x1="205.3" y1="219.1" x2="213.3" y2="219.1" stroke="#000" stroke-width="2.7"/>
<line x1="198.3" y1="309.5" x2="213.3" y2="309.5" stroke="#000" stroke-width="2.7"/>
<line x1="205.3" y1="399.9" x2="213.3" y2="399.9" stroke="#000" stroke-width="2.7"/>
<line x1="198.3" y1="490.3" x2="213.3" y2="490.3" stroke="#000" stroke-width="2.7"/>
<line x1="205.3" y1="580.7" x2="213.3" y2="580.7" stroke="#000" stroke-width="2.7"/>
<line x1="198.3" y1="671.1" x2="213.3" y2="671.1" stroke="#000" stroke-width="2.7"/>
<line x1="205.3" y1="761.5" x2="213.3" y2="761.5" stroke="#000" stroke-width="2.7"/>
<text transform="translate(187.8,139.9) scale(1,1.04)" font-size="39.8" fill="#000" text-anchor="end" font-family='"Liberation Sans", Arial, sans-serif'>-160</text>
<text transform="translate(187.8,320.7) scale(1,1.04)" font-size="39.8" fill="#000" text-anchor="end" font-family='"Liberation Sans", Arial, sans-serif'>-180</text>
<text transform="translate(187.8,501.5) scale(1,1.04)" font-size="39.8" fill="#000" text-anchor="end" font-family='"Liberation Sans", Arial, sans-serif'>-200</text>
<text transform="translate(187.8,682.3) scale(1,1.04)" font-size="39.8" fill="#000" text-anchor="end" font-family='"Liberation Sans", Arial, sans-serif'>-220</text>
<line x1="213.3" y1="761.6" x2="213.3" y2="776.6" stroke="#000" stroke-width="2.7"/>
<line x1="324.7" y1="761.6" x2="324.7" y2="769.6" stroke="#000" stroke-width="2.7"/>
<line x1="389.8" y1="761.6" x2="389.8" y2="769.6" stroke="#000" stroke-width="2.7"/>
<line x1="436.1" y1="761.6" x2="436.1" y2="769.6" stroke="#000" stroke-width="2.7"/>
<line x1="471.9" y1="761.6" x2="471.9" y2="769.6" stroke="#000" stroke-width="2.7"/>
<line x1="501.2" y1="761.6" x2="501.2" y2="769.6" stroke="#000" stroke-width="2.7"/>
<line x1="526.0" y1="761.6" x2="526.0" y2="769.6" stroke="#000" stroke-width="2.7"/>
<line x1="547.4" y1="761.6" x2="547.4" y2="769.6" stroke="#000" stroke-width="2.7"/>
<line x1="566.4" y1="761.6" x2="566.4" y2="769.6" stroke="#000" stroke-width="2.7"/>
<line x1="583.3" y1="761.6" x2="583.3" y2="776.6" stroke="#000" stroke-width="2.7"/>
<line x1="694.7" y1="761.6" x2="694.7" y2="769.6" stroke="#000" stroke-width="2.7"/>
<line x1="759.8" y1="761.6" x2="759.8" y2="769.6" stroke="#000" stroke-width="2.7"/>
<line x1="806.1" y1="761.6" x2="806.1" y2="769.6" stroke="#000" stroke-width="2.7"/>
<line x1="841.9" y1="761.6" x2="841.9" y2="769.6" stroke="#000" stroke-width="2.7"/>
<line x1="871.2" y1="761.6" x2="871.2" y2="769.6" stroke="#000" stroke-width="2.7"/>
<line x1="896.0" y1="761.6" x2="896.0" y2="769.6" stroke="#000" stroke-width="2.7"/>
<line x1="917.4" y1="761.6" x2="917.4" y2="769.6" stroke="#000" stroke-width="2.7"/>
<line x1="936.4" y1="761.6" x2="936.4" y2="769.6" stroke="#000" stroke-width="2.7"/>
<line x1="953.3" y1="761.6" x2="953.3" y2="776.6" stroke="#000" stroke-width="2.7"/>
<text transform="translate(181.8,824.6) scale(1,1.04)" font-size="38.3" fill="#000" text-anchor="start" font-family='"Liberation Sans", Arial, sans-serif'>10<tspan dx="0.5" dy="-20.5" font-size="23">-4</tspan></text>
<text transform="translate(551.8,824.6) scale(1,1.04)" font-size="38.3" fill="#000" text-anchor="start" font-family='"Liberation Sans", Arial, sans-serif'>10<tspan dx="0.5" dy="-20.5" font-size="23">-3</tspan></text>
<text transform="translate(921.8,824.6) scale(1,1.04)" font-size="38.3" fill="#000" text-anchor="start" font-family='"Liberation Sans", Arial, sans-serif'>10<tspan dx="0.5" dy="-20.5" font-size="23">-2</tspan></text>
<text transform="translate(555.2,888.4) scale(1,1.04)" font-size="43" fill="#000" text-anchor="start" font-family='"Liberation Sans", Arial, sans-serif'>Hz</text>
<text transform="translate(71.5,428) rotate(-90) scale(1,1.0)" font-size="42.5" text-anchor="middle" font-family='"Liberation Sans", Arial, sans-serif'>dB (relative to 1 (m/s²)²/Hz)</text>
<text transform="translate(72.4,48.6) scale(1,1.04)" font-size="43.3" fill="#f00" text-anchor="start" font-family='"Liberation Sans", Arial, sans-serif'>NLNM</text>
<line x1="682.8" y1="579.6" x2="739.7" y2="579.6" stroke="#0000e6" stroke-width="2"/>
<path d="M665.8,579.6 L684.8,574.0 L684.8,585.2 Z" fill="#0000e6"/>
<path d="M756.7,579.6 L737.7,574.0 L737.7,585.2 Z" fill="#0000e6"/>
<text transform="translate(668.5,646.8) scale(1,1.04)" font-size="39.5" fill="#0000e6" text-anchor="start" font-family='"Liberation Sans", Arial, sans-serif'>SNM</text>
<path d="M271,399.8 H286 M278.5,399.8 V418.6 M271,418.6 H286" stroke="#000" stroke-width="1.3" fill="none"/>
<text transform="translate(291.0,417.8) scale(1,1.04)" font-size="22.8" fill="#000" text-anchor="start" font-family='"Liberation Sans", Arial, sans-serif'>95% confidence interval</text>
<rect x="978" y="48.7" width="334" height="541.8" fill="#fff" stroke="#000" stroke-width="1.5"/>
<path d="M1005.5,87.1H1029.5M1055,87.1H1078" stroke="#a8a8a8" stroke-width="1.4"/>
<path d="M1034.0,87.1h16M1042.0,79.1v16" stroke="#000" stroke-width="1.4" fill="none"/>
<text transform="translate(1086.4,97.7) scale(1,1.04)" font-size="32.6" fill="#000" text-anchor="start" font-family='"Liberation Sans", Arial, sans-serif'>BH CD030_L</text>
<rect x="1037.4" y="122.0" width="9.2" height="9.2" fill="#000"/>
<text transform="translate(1086.4,137.2) scale(1,1.04)" font-size="32.6" fill="#000" text-anchor="start" font-family='"Liberation Sans", Arial, sans-serif'>BO C024</text>
<path d="M1005.8,166.1H1077" stroke="#000" stroke-width="1.7" stroke-dasharray="1.6 4.68"/>
<text transform="translate(1086.4,176.7) scale(1,1.04)" font-size="32.6" fill="#000" text-anchor="start" font-family='"Liberation Sans", Arial, sans-serif'>CB C031</text>
<path d="M1005.5,205.6H1078" stroke="#00ffff" stroke-width="5.4" stroke-linecap="butt"/><circle cx="1005.6" cy="205.6" r="2.7" fill="#00ffff"/>
<text transform="translate(1086.4,216.2) scale(1,1.04)" font-size="32.6" fill="#000" text-anchor="start" font-family='"Liberation Sans", Arial, sans-serif'>CO C025</text>
<path d="M1005.2,245.1H1014.8M1023.2,245.1H1032.9M1048.8,245.1H1050.8M1059.3,245.1H1068.9" stroke="#0000e0" stroke-width="2"/>
<rect x="1035.0" y="238.1" width="14" height="14" fill="#fff" stroke="#2323d8" stroke-width="1.4"/>
<text transform="translate(1086.4,255.7) scale(1,1.04)" font-size="32.6" fill="#000" text-anchor="start" font-family='"Liberation Sans", Arial, sans-serif'>MB C021</text>
<path d="M1005.5,284.6H1078" stroke="#800000" stroke-width="1.3"/>
<path d="M1042.0,273.8L1051.6,290.0L1032.4,290.0Z" fill="#800000"/>
<text transform="translate(1086.4,295.2) scale(1,1.04)" font-size="32.6" fill="#000" text-anchor="start" font-family='"Liberation Sans", Arial, sans-serif'>MC C023</text>
<path d="M1005.5,324.2H1078" stroke="#000" stroke-width="1.3"/>
<circle cx="1042.0" cy="324.2" r="7.6" fill="#fff" stroke="#000" stroke-width="1.4"/>
<text transform="translate(1086.4,334.8) scale(1,1.04)" font-size="32.6" fill="#000" text-anchor="start" font-family='"Liberation Sans", Arial, sans-serif'>MO CD034_L</text>
<path d="M1006,363.7H1078" stroke="#000" stroke-width="3.6"/><circle cx="1006" cy="363.7" r="1.8" fill="#000"/>
<text transform="translate(1086.4,374.3) scale(1,1.04)" font-size="32.6" fill="#000" text-anchor="start" font-family='"Liberation Sans", Arial, sans-serif'>NY C039</text>
<path d="M1005.5,403.2H1078" stroke="#008080" stroke-width="1.3"/>
<polygon points="1042.0,393.4 1044.7,399.5 1051.3,400.2 1046.4,404.6 1047.8,411.1 1042.0,407.8 1036.2,411.1 1037.6,404.6 1032.7,400.2 1039.3,399.5" fill="#008080"/>
<text transform="translate(1086.4,413.8) scale(1,1.04)" font-size="32.6" fill="#000" text-anchor="start" font-family='"Liberation Sans", Arial, sans-serif'>ST C026</text>
<path d="M1005.2,442.7H1078" stroke="#000" stroke-width="1.8" stroke-dasharray="5.6 4.1"/>
<text transform="translate(1086.4,453.3) scale(1,1.04)" font-size="32.6" fill="#000" text-anchor="start" font-family='"Liberation Sans", Arial, sans-serif'>SU CD037_L</text>
<path d="M1005.5,482.2H1078" stroke="#f000f0" stroke-width="1.6"/>
<circle cx="1042.0" cy="482.2" r="5.2" fill="#fff" stroke="#e030e0" stroke-width="1.05"/>
<text transform="translate(1086.4,492.8) scale(1,1.04)" font-size="32.6" fill="#000" text-anchor="start" font-family='"Liberation Sans", Arial, sans-serif'>TC RT038</text>
<path d="M1005.5,521.7H1078" stroke="#808000" stroke-width="1.8"/>
<polygon points="1042.0,512.4 1044.5,518.2 1050.8,518.8 1046.1,523.0 1047.5,529.2 1042.0,526.0 1036.5,529.2 1037.9,523.0 1033.2,518.8 1039.5,518.2" fill="#fff" stroke="#808000" stroke-width="1.2"/>
<text transform="translate(1086.4,532.3) scale(1,1.04)" font-size="32.6" fill="#000" text-anchor="start" font-family='"Liberation Sans", Arial, sans-serif'>VI C025</text>
<path d="M1005.5,561.2H1078" stroke="#c4c0c2" stroke-width="1.3"/>
<path d="M1042.0,552.3v17.8M1033.1,561.2h17.8M1033.6,552.8l16.8,16.8M1033.6,569.6l16.8,-16.8" stroke="#7a7a7a" stroke-width="1.2" fill="none"/>
<text transform="translate(1086.4,571.8) scale(1,1.04)" font-size="32.6" fill="#000" text-anchor="start" font-family='"Liberation Sans", Arial, sans-serif'>WE CD029_L</text>
</svg></body></html>
